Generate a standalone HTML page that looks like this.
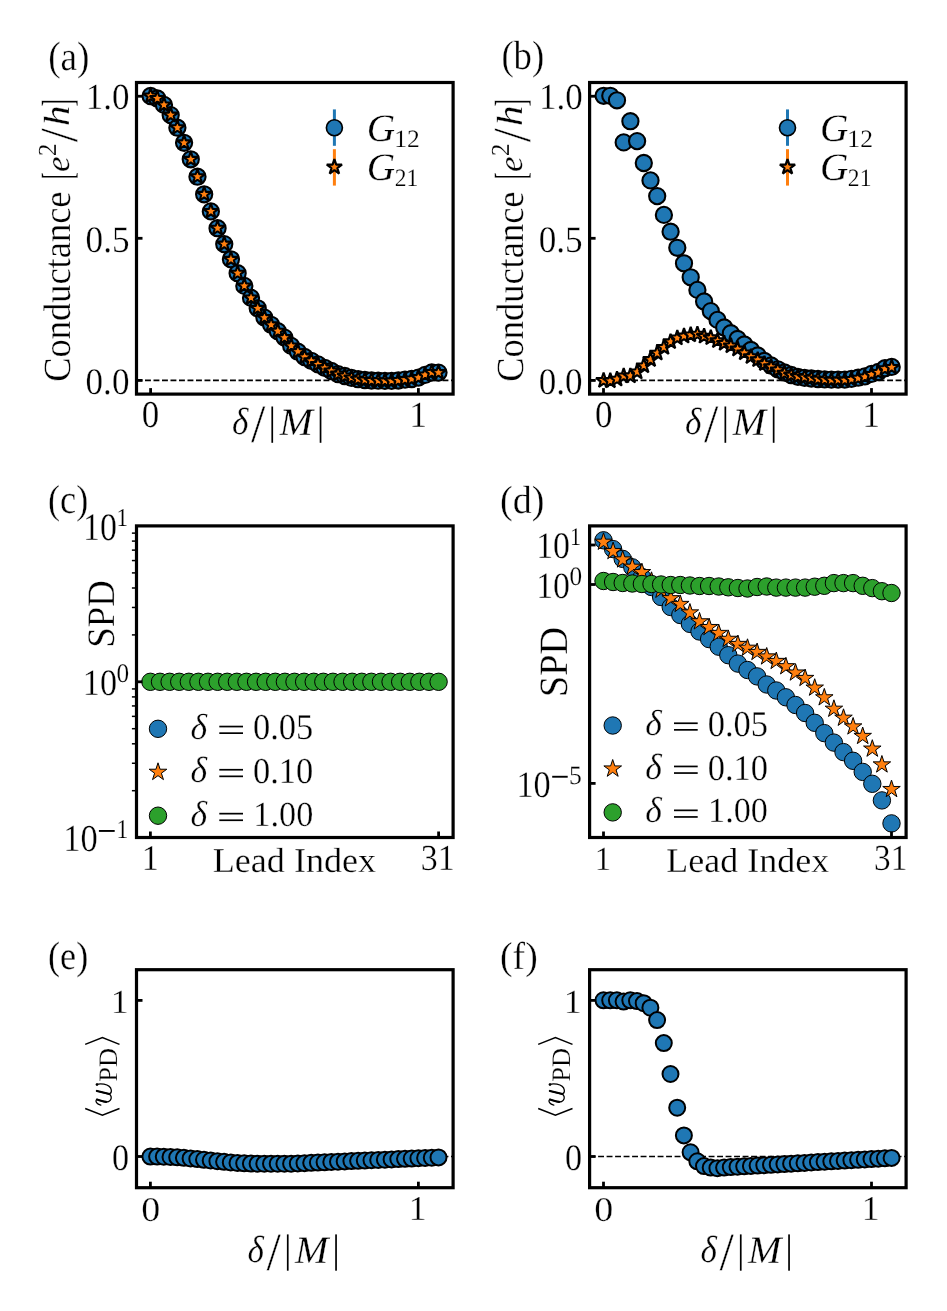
<!DOCTYPE html>
<html><head><meta charset="utf-8"><title>figure</title>
<style>
html,body{margin:0;padding:0;background:#fff;width:947px;height:1311px;overflow:hidden}
svg{display:block;will-change:transform}
text{font-size:100px;fill:#000;stroke:#fff;stroke-width:0.8px;text-rendering:geometricPrecision;font-kerning:none}
.r{font-family:"Liberation Serif",serif}
.i{font-family:"Liberation Serif",serif;font-style:italic}
</style></head><body>
<svg width="947" height="1311" viewBox="0 0 947 1311">
<rect width="947" height="1311" fill="#fff"/>
<clipPath id="clipa"><rect x="136.5" y="82.5" width="316.6" height="311.6"/></clipPath>
<line x1="136.5" y1="380.4" x2="453.1" y2="380.4" stroke="#000" stroke-width="1.6" stroke-dasharray="5.9 2.6"/>
<g clip-path="url(#clipa)">
<circle cx="150.60" cy="96.00" r="8.1" fill="#1f77b4" stroke="#000" stroke-width="2.1"/>
<circle cx="157.29" cy="98.50" r="8.1" fill="#1f77b4" stroke="#000" stroke-width="2.1"/>
<circle cx="163.99" cy="104.90" r="8.1" fill="#1f77b4" stroke="#000" stroke-width="2.1"/>
<circle cx="170.69" cy="115.10" r="8.1" fill="#1f77b4" stroke="#000" stroke-width="2.1"/>
<circle cx="177.38" cy="127.70" r="8.1" fill="#1f77b4" stroke="#000" stroke-width="2.1"/>
<circle cx="184.07" cy="142.80" r="8.1" fill="#1f77b4" stroke="#000" stroke-width="2.1"/>
<circle cx="190.77" cy="159.30" r="8.1" fill="#1f77b4" stroke="#000" stroke-width="2.1"/>
<circle cx="197.47" cy="176.70" r="8.1" fill="#1f77b4" stroke="#000" stroke-width="2.1"/>
<circle cx="204.16" cy="194.30" r="8.1" fill="#1f77b4" stroke="#000" stroke-width="2.1"/>
<circle cx="210.85" cy="211.40" r="8.1" fill="#1f77b4" stroke="#000" stroke-width="2.1"/>
<circle cx="217.55" cy="228.20" r="8.1" fill="#1f77b4" stroke="#000" stroke-width="2.1"/>
<circle cx="224.25" cy="244.10" r="8.1" fill="#1f77b4" stroke="#000" stroke-width="2.1"/>
<circle cx="230.94" cy="259.30" r="8.1" fill="#1f77b4" stroke="#000" stroke-width="2.1"/>
<circle cx="237.63" cy="273.20" r="8.1" fill="#1f77b4" stroke="#000" stroke-width="2.1"/>
<circle cx="244.33" cy="285.90" r="8.1" fill="#1f77b4" stroke="#000" stroke-width="2.1"/>
<circle cx="251.03" cy="297.90" r="8.1" fill="#1f77b4" stroke="#000" stroke-width="2.1"/>
<circle cx="257.72" cy="308.30" r="8.1" fill="#1f77b4" stroke="#000" stroke-width="2.1"/>
<circle cx="264.41" cy="317.60" r="8.1" fill="#1f77b4" stroke="#000" stroke-width="2.1"/>
<circle cx="271.11" cy="324.80" r="8.1" fill="#1f77b4" stroke="#000" stroke-width="2.1"/>
<circle cx="277.81" cy="331.20" r="8.1" fill="#1f77b4" stroke="#000" stroke-width="2.1"/>
<circle cx="284.50" cy="337.60" r="8.1" fill="#1f77b4" stroke="#000" stroke-width="2.1"/>
<circle cx="291.19" cy="345.90" r="8.1" fill="#1f77b4" stroke="#000" stroke-width="2.1"/>
<circle cx="297.89" cy="351.70" r="8.1" fill="#1f77b4" stroke="#000" stroke-width="2.1"/>
<circle cx="304.59" cy="357.00" r="8.1" fill="#1f77b4" stroke="#000" stroke-width="2.1"/>
<circle cx="311.28" cy="360.80" r="8.1" fill="#1f77b4" stroke="#000" stroke-width="2.1"/>
<circle cx="317.98" cy="364.40" r="8.1" fill="#1f77b4" stroke="#000" stroke-width="2.1"/>
<circle cx="324.67" cy="367.80" r="8.1" fill="#1f77b4" stroke="#000" stroke-width="2.1"/>
<circle cx="331.37" cy="371.00" r="8.1" fill="#1f77b4" stroke="#000" stroke-width="2.1"/>
<circle cx="338.06" cy="374.10" r="8.1" fill="#1f77b4" stroke="#000" stroke-width="2.1"/>
<circle cx="344.75" cy="376.00" r="8.1" fill="#1f77b4" stroke="#000" stroke-width="2.1"/>
<circle cx="351.45" cy="377.90" r="8.1" fill="#1f77b4" stroke="#000" stroke-width="2.1"/>
<circle cx="358.14" cy="379.20" r="8.1" fill="#1f77b4" stroke="#000" stroke-width="2.1"/>
<circle cx="364.84" cy="380.00" r="8.1" fill="#1f77b4" stroke="#000" stroke-width="2.1"/>
<circle cx="371.53" cy="380.50" r="8.1" fill="#1f77b4" stroke="#000" stroke-width="2.1"/>
<circle cx="378.23" cy="380.70" r="8.1" fill="#1f77b4" stroke="#000" stroke-width="2.1"/>
<circle cx="384.93" cy="380.90" r="8.1" fill="#1f77b4" stroke="#000" stroke-width="2.1"/>
<circle cx="391.62" cy="380.90" r="8.1" fill="#1f77b4" stroke="#000" stroke-width="2.1"/>
<circle cx="398.31" cy="380.50" r="8.1" fill="#1f77b4" stroke="#000" stroke-width="2.1"/>
<circle cx="405.01" cy="379.60" r="8.1" fill="#1f77b4" stroke="#000" stroke-width="2.1"/>
<circle cx="411.71" cy="379.00" r="8.1" fill="#1f77b4" stroke="#000" stroke-width="2.1"/>
<circle cx="418.40" cy="377.60" r="8.1" fill="#1f77b4" stroke="#000" stroke-width="2.1"/>
<circle cx="425.10" cy="374.90" r="8.1" fill="#1f77b4" stroke="#000" stroke-width="2.1"/>
<circle cx="431.79" cy="372.50" r="8.1" fill="#1f77b4" stroke="#000" stroke-width="2.1"/>
<circle cx="438.49" cy="372.60" r="8.1" fill="#1f77b4" stroke="#000" stroke-width="2.1"/>
<path d="M150.60,88.00 L148.80,93.53 L142.99,93.53 L147.69,96.94 L145.90,102.47 L150.60,99.06 L155.30,102.47 L153.51,96.94 L158.21,93.53 L152.40,93.53Z" fill="#ff7f0e" stroke="#000" stroke-width="2.1" stroke-linejoin="bevel"/>
<path d="M157.29,90.50 L155.50,96.03 L149.69,96.03 L154.39,99.44 L152.59,104.97 L157.29,101.56 L162.00,104.97 L160.20,99.44 L164.90,96.03 L159.09,96.03Z" fill="#ff7f0e" stroke="#000" stroke-width="2.1" stroke-linejoin="bevel"/>
<path d="M163.99,96.90 L162.19,102.43 L156.38,102.43 L161.08,105.84 L159.29,111.37 L163.99,107.96 L168.69,111.37 L166.90,105.84 L171.60,102.43 L165.79,102.43Z" fill="#ff7f0e" stroke="#000" stroke-width="2.1" stroke-linejoin="bevel"/>
<path d="M170.69,107.10 L168.89,112.63 L163.08,112.63 L167.78,116.04 L165.98,121.57 L170.69,118.16 L175.39,121.57 L173.59,116.04 L178.29,112.63 L172.48,112.63Z" fill="#ff7f0e" stroke="#000" stroke-width="2.1" stroke-linejoin="bevel"/>
<path d="M177.38,119.70 L175.58,125.23 L169.77,125.23 L174.47,128.64 L172.68,134.17 L177.38,130.76 L182.08,134.17 L180.29,128.64 L184.99,125.23 L179.18,125.23Z" fill="#ff7f0e" stroke="#000" stroke-width="2.1" stroke-linejoin="bevel"/>
<path d="M184.07,134.80 L182.28,140.33 L176.47,140.33 L181.17,143.74 L179.37,149.27 L184.07,145.86 L188.78,149.27 L186.98,143.74 L191.68,140.33 L185.87,140.33Z" fill="#ff7f0e" stroke="#000" stroke-width="2.1" stroke-linejoin="bevel"/>
<path d="M190.77,151.30 L188.97,156.83 L183.16,156.83 L187.86,160.24 L186.07,165.77 L190.77,162.36 L195.47,165.77 L193.68,160.24 L198.38,156.83 L192.57,156.83Z" fill="#ff7f0e" stroke="#000" stroke-width="2.1" stroke-linejoin="bevel"/>
<path d="M197.47,168.70 L195.67,174.23 L189.86,174.23 L194.56,177.64 L192.76,183.17 L197.47,179.76 L202.17,183.17 L200.37,177.64 L205.07,174.23 L199.26,174.23Z" fill="#ff7f0e" stroke="#000" stroke-width="2.1" stroke-linejoin="bevel"/>
<path d="M204.16,186.30 L202.36,191.83 L196.55,191.83 L201.25,195.24 L199.46,200.77 L204.16,197.36 L208.86,200.77 L207.07,195.24 L211.77,191.83 L205.96,191.83Z" fill="#ff7f0e" stroke="#000" stroke-width="2.1" stroke-linejoin="bevel"/>
<path d="M210.85,203.40 L209.06,208.93 L203.25,208.93 L207.95,212.34 L206.15,217.87 L210.85,214.46 L215.56,217.87 L213.76,212.34 L218.46,208.93 L212.65,208.93Z" fill="#ff7f0e" stroke="#000" stroke-width="2.1" stroke-linejoin="bevel"/>
<path d="M217.55,220.20 L215.75,225.73 L209.94,225.73 L214.64,229.14 L212.85,234.67 L217.55,231.26 L222.25,234.67 L220.46,229.14 L225.16,225.73 L219.35,225.73Z" fill="#ff7f0e" stroke="#000" stroke-width="2.1" stroke-linejoin="bevel"/>
<path d="M224.25,236.10 L222.45,241.63 L216.64,241.63 L221.34,245.04 L219.54,250.57 L224.25,247.16 L228.95,250.57 L227.15,245.04 L231.85,241.63 L226.04,241.63Z" fill="#ff7f0e" stroke="#000" stroke-width="2.1" stroke-linejoin="bevel"/>
<path d="M230.94,251.30 L229.14,256.83 L223.33,256.83 L228.03,260.24 L226.24,265.77 L230.94,262.36 L235.64,265.77 L233.85,260.24 L238.55,256.83 L232.74,256.83Z" fill="#ff7f0e" stroke="#000" stroke-width="2.1" stroke-linejoin="bevel"/>
<path d="M237.63,265.20 L235.84,270.73 L230.03,270.73 L234.73,274.14 L232.93,279.67 L237.63,276.26 L242.34,279.67 L240.54,274.14 L245.24,270.73 L239.43,270.73Z" fill="#ff7f0e" stroke="#000" stroke-width="2.1" stroke-linejoin="bevel"/>
<path d="M244.33,277.90 L242.53,283.43 L236.72,283.43 L241.42,286.84 L239.63,292.37 L244.33,288.96 L249.03,292.37 L247.24,286.84 L251.94,283.43 L246.13,283.43Z" fill="#ff7f0e" stroke="#000" stroke-width="2.1" stroke-linejoin="bevel"/>
<path d="M251.03,289.90 L249.23,295.43 L243.42,295.43 L248.12,298.84 L246.32,304.37 L251.03,300.96 L255.73,304.37 L253.93,298.84 L258.63,295.43 L252.82,295.43Z" fill="#ff7f0e" stroke="#000" stroke-width="2.1" stroke-linejoin="bevel"/>
<path d="M257.72,300.30 L255.92,305.83 L250.11,305.83 L254.81,309.24 L253.02,314.77 L257.72,311.36 L262.42,314.77 L260.63,309.24 L265.33,305.83 L259.52,305.83Z" fill="#ff7f0e" stroke="#000" stroke-width="2.1" stroke-linejoin="bevel"/>
<path d="M264.41,309.60 L262.62,315.13 L256.81,315.13 L261.51,318.54 L259.71,324.07 L264.41,320.66 L269.12,324.07 L267.32,318.54 L272.02,315.13 L266.21,315.13Z" fill="#ff7f0e" stroke="#000" stroke-width="2.1" stroke-linejoin="bevel"/>
<path d="M271.11,316.80 L269.31,322.33 L263.50,322.33 L268.20,325.74 L266.41,331.27 L271.11,327.86 L275.81,331.27 L274.02,325.74 L278.72,322.33 L272.91,322.33Z" fill="#ff7f0e" stroke="#000" stroke-width="2.1" stroke-linejoin="bevel"/>
<path d="M277.81,323.20 L276.01,328.73 L270.20,328.73 L274.90,332.14 L273.10,337.67 L277.81,334.26 L282.51,337.67 L280.71,332.14 L285.41,328.73 L279.60,328.73Z" fill="#ff7f0e" stroke="#000" stroke-width="2.1" stroke-linejoin="bevel"/>
<path d="M284.50,329.60 L282.70,335.13 L276.89,335.13 L281.59,338.54 L279.80,344.07 L284.50,340.66 L289.20,344.07 L287.41,338.54 L292.11,335.13 L286.30,335.13Z" fill="#ff7f0e" stroke="#000" stroke-width="2.1" stroke-linejoin="bevel"/>
<path d="M291.19,337.90 L289.40,343.43 L283.59,343.43 L288.29,346.84 L286.49,352.37 L291.19,348.96 L295.90,352.37 L294.10,346.84 L298.80,343.43 L292.99,343.43Z" fill="#ff7f0e" stroke="#000" stroke-width="2.1" stroke-linejoin="bevel"/>
<path d="M297.89,343.70 L296.09,349.23 L290.28,349.23 L294.98,352.64 L293.19,358.17 L297.89,354.76 L302.59,358.17 L300.80,352.64 L305.50,349.23 L299.69,349.23Z" fill="#ff7f0e" stroke="#000" stroke-width="2.1" stroke-linejoin="bevel"/>
<path d="M304.59,349.00 L302.79,354.53 L296.98,354.53 L301.68,357.94 L299.88,363.47 L304.59,360.06 L309.29,363.47 L307.49,357.94 L312.19,354.53 L306.38,354.53Z" fill="#ff7f0e" stroke="#000" stroke-width="2.1" stroke-linejoin="bevel"/>
<path d="M311.28,352.80 L309.48,358.33 L303.67,358.33 L308.37,361.74 L306.58,367.27 L311.28,363.86 L315.98,367.27 L314.19,361.74 L318.89,358.33 L313.08,358.33Z" fill="#ff7f0e" stroke="#000" stroke-width="2.1" stroke-linejoin="bevel"/>
<path d="M317.98,356.40 L316.18,361.93 L310.37,361.93 L315.07,365.34 L313.27,370.87 L317.98,367.46 L322.68,370.87 L320.88,365.34 L325.58,361.93 L319.77,361.93Z" fill="#ff7f0e" stroke="#000" stroke-width="2.1" stroke-linejoin="bevel"/>
<path d="M324.67,359.80 L322.87,365.33 L317.06,365.33 L321.76,368.74 L319.97,374.27 L324.67,370.86 L329.37,374.27 L327.58,368.74 L332.28,365.33 L326.47,365.33Z" fill="#ff7f0e" stroke="#000" stroke-width="2.1" stroke-linejoin="bevel"/>
<path d="M331.37,363.00 L329.57,368.53 L323.76,368.53 L328.46,371.94 L326.66,377.47 L331.37,374.06 L336.07,377.47 L334.27,371.94 L338.97,368.53 L333.16,368.53Z" fill="#ff7f0e" stroke="#000" stroke-width="2.1" stroke-linejoin="bevel"/>
<path d="M338.06,366.10 L336.26,371.63 L330.45,371.63 L335.15,375.04 L333.36,380.57 L338.06,377.16 L342.76,380.57 L340.97,375.04 L345.67,371.63 L339.86,371.63Z" fill="#ff7f0e" stroke="#000" stroke-width="2.1" stroke-linejoin="bevel"/>
<path d="M344.75,368.00 L342.96,373.53 L337.15,373.53 L341.85,376.94 L340.05,382.47 L344.75,379.06 L349.46,382.47 L347.66,376.94 L352.36,373.53 L346.55,373.53Z" fill="#ff7f0e" stroke="#000" stroke-width="2.1" stroke-linejoin="bevel"/>
<path d="M351.45,369.90 L349.65,375.43 L343.84,375.43 L348.54,378.84 L346.75,384.37 L351.45,380.96 L356.15,384.37 L354.36,378.84 L359.06,375.43 L353.25,375.43Z" fill="#ff7f0e" stroke="#000" stroke-width="2.1" stroke-linejoin="bevel"/>
<path d="M358.14,371.20 L356.35,376.73 L350.54,376.73 L355.24,380.14 L353.44,385.67 L358.14,382.26 L362.85,385.67 L361.05,380.14 L365.75,376.73 L359.94,376.73Z" fill="#ff7f0e" stroke="#000" stroke-width="2.1" stroke-linejoin="bevel"/>
<path d="M364.84,372.00 L363.04,377.53 L357.23,377.53 L361.93,380.94 L360.14,386.47 L364.84,383.06 L369.54,386.47 L367.75,380.94 L372.45,377.53 L366.64,377.53Z" fill="#ff7f0e" stroke="#000" stroke-width="2.1" stroke-linejoin="bevel"/>
<path d="M371.53,372.50 L369.74,378.03 L363.93,378.03 L368.63,381.44 L366.83,386.97 L371.53,383.56 L376.24,386.97 L374.44,381.44 L379.14,378.03 L373.33,378.03Z" fill="#ff7f0e" stroke="#000" stroke-width="2.1" stroke-linejoin="bevel"/>
<path d="M378.23,372.70 L376.43,378.23 L370.62,378.23 L375.32,381.64 L373.53,387.17 L378.23,383.76 L382.93,387.17 L381.14,381.64 L385.84,378.23 L380.03,378.23Z" fill="#ff7f0e" stroke="#000" stroke-width="2.1" stroke-linejoin="bevel"/>
<path d="M384.93,372.90 L383.13,378.43 L377.32,378.43 L382.02,381.84 L380.22,387.37 L384.93,383.96 L389.63,387.37 L387.83,381.84 L392.53,378.43 L386.72,378.43Z" fill="#ff7f0e" stroke="#000" stroke-width="2.1" stroke-linejoin="bevel"/>
<path d="M391.62,372.90 L389.82,378.43 L384.01,378.43 L388.71,381.84 L386.92,387.37 L391.62,383.96 L396.32,387.37 L394.53,381.84 L399.23,378.43 L393.42,378.43Z" fill="#ff7f0e" stroke="#000" stroke-width="2.1" stroke-linejoin="bevel"/>
<path d="M398.31,372.50 L396.52,378.03 L390.71,378.03 L395.41,381.44 L393.61,386.97 L398.31,383.56 L403.02,386.97 L401.22,381.44 L405.92,378.03 L400.11,378.03Z" fill="#ff7f0e" stroke="#000" stroke-width="2.1" stroke-linejoin="bevel"/>
<path d="M405.01,371.60 L403.21,377.13 L397.40,377.13 L402.10,380.54 L400.31,386.07 L405.01,382.66 L409.71,386.07 L407.92,380.54 L412.62,377.13 L406.81,377.13Z" fill="#ff7f0e" stroke="#000" stroke-width="2.1" stroke-linejoin="bevel"/>
<path d="M411.71,371.00 L409.91,376.53 L404.10,376.53 L408.80,379.94 L407.00,385.47 L411.71,382.06 L416.41,385.47 L414.61,379.94 L419.31,376.53 L413.50,376.53Z" fill="#ff7f0e" stroke="#000" stroke-width="2.1" stroke-linejoin="bevel"/>
<path d="M418.40,369.60 L416.60,375.13 L410.79,375.13 L415.49,378.54 L413.70,384.07 L418.40,380.66 L423.10,384.07 L421.31,378.54 L426.01,375.13 L420.20,375.13Z" fill="#ff7f0e" stroke="#000" stroke-width="2.1" stroke-linejoin="bevel"/>
<path d="M425.10,366.90 L423.30,372.43 L417.49,372.43 L422.19,375.84 L420.39,381.37 L425.10,377.96 L429.80,381.37 L428.00,375.84 L432.70,372.43 L426.89,372.43Z" fill="#ff7f0e" stroke="#000" stroke-width="2.1" stroke-linejoin="bevel"/>
<path d="M431.79,364.50 L429.99,370.03 L424.18,370.03 L428.88,373.44 L427.09,378.97 L431.79,375.56 L436.49,378.97 L434.70,373.44 L439.40,370.03 L433.59,370.03Z" fill="#ff7f0e" stroke="#000" stroke-width="2.1" stroke-linejoin="bevel"/>
<path d="M438.49,364.60 L436.69,370.13 L430.88,370.13 L435.58,373.54 L433.78,379.07 L438.49,375.66 L443.19,379.07 L441.39,373.54 L446.09,370.13 L440.28,370.13Z" fill="#ff7f0e" stroke="#000" stroke-width="2.1" stroke-linejoin="bevel"/>
</g>
<rect x="136.5" y="82.5" width="316.60" height="311.60" fill="none" stroke="#000" stroke-width="3.2" stroke-linejoin="miter"/>
<line x1="136.5" y1="96.25" x2="142.5" y2="96.25" stroke="#000" stroke-width="2.8"/>
<line x1="136.5" y1="238.3" x2="142.5" y2="238.3" stroke="#000" stroke-width="2.8"/>
<line x1="136.5" y1="380.4" x2="142.5" y2="380.4" stroke="#000" stroke-width="2.8"/>
<line x1="150.6" y1="394.1" x2="150.6" y2="388.1" stroke="#000" stroke-width="2.8"/>
<line x1="418.4" y1="394.1" x2="418.4" y2="388.1" stroke="#000" stroke-width="2.8"/>
<text class="r" transform="translate(85.83 109.28) scale(0.3496 0.3688)">1.0</text>
<text class="r" transform="translate(85.56 251.77) scale(0.3513 0.3740)">0.5</text>
<text class="r" transform="translate(85.56 393.87) scale(0.3510 0.3740)">0.0</text>
<text class="r" transform="translate(141.87 427.33) scale(0.3492 0.3809)">0</text>
<text class="r" transform="translate(409.25 427.00) scale(0.3579 0.3666)">1</text>
<text class="r" transform="translate(48.17 69.57) scale(0.3718 0.4103)">(a)</text>
<text class="r" transform="translate(69.63 381.79) rotate(-90) scale(0.3645 0.3837)">Conductance</text>
<text class="r" transform="translate(71.85 179.10) rotate(-90) scale(0.2021 0.4374)">[</text>
<text class="i" transform="translate(68.97 171.88) rotate(-90) scale(0.3507 0.3410)">e</text>
<text class="r" transform="translate(56.00 156.33) rotate(-90) scale(0.2569 0.2598)">2</text>
<text class="r" transform="translate(77.18 142.20) rotate(-90) scale(0.5075 0.5352)">/</text>
<text class="i" transform="translate(69.30 126.21) rotate(-90) scale(0.4167 0.3632)">h</text>
<text class="r" transform="translate(71.85 106.40) rotate(-90) scale(0.2201 0.4374)">]</text>
<text class="i" transform="translate(231.97 434.23) scale(0.3521 0.3783)">δ</text>
<text class="r" transform="translate(250.90 442.27) scale(0.5183 0.5426)">/</text>
<rect x="271.40" y="406.5" width="1.7" height="36.3" fill="#000"/>
<text class="i" transform="translate(279.47 434.60) scale(0.4008 0.3879)">M</text>
<rect x="319.70" y="406.5" width="1.7" height="36.3" fill="#000"/>
<line x1="334.4" y1="109.4" x2="334.4" y2="145.8" stroke="#1f77b4" stroke-width="3"/>
<circle cx="334.40" cy="127.70" r="8.0" fill="#1f77b4" stroke="#000" stroke-width="1.65"/>
<line x1="334.4" y1="149.2" x2="334.4" y2="185.6" stroke="#ff7f0e" stroke-width="3"/>
<path d="M334.40,159.10 L332.60,164.63 L326.79,164.63 L331.49,168.04 L329.70,173.57 L334.40,170.16 L339.10,173.57 L337.31,168.04 L342.01,164.63 L336.20,164.63Z" fill="#ff7f0e" stroke="#000" stroke-width="2.2" stroke-linejoin="bevel"/>
<text class="i" transform="translate(366.83 140.66) scale(0.3935 0.3890)">G</text>
<text class="r" transform="translate(394.25 146.50) scale(0.2556 0.2492)">12</text>
<text class="i" transform="translate(366.83 180.46) scale(0.3935 0.3890)">G</text>
<text class="r" transform="translate(394.76 186.30) scale(0.2366 0.2492)">21</text>
<clipPath id="clipb"><rect x="589.6" y="82.5" width="316.5" height="311.6"/></clipPath>
<line x1="589.6" y1="380.4" x2="906.1" y2="380.4" stroke="#000" stroke-width="1.6" stroke-dasharray="5.9 2.6"/>
<g clip-path="url(#clipb)">
<circle cx="603.60" cy="95.80" r="8.1" fill="#1f77b4" stroke="#000" stroke-width="2.1"/>
<circle cx="610.30" cy="95.80" r="8.1" fill="#1f77b4" stroke="#000" stroke-width="2.1"/>
<circle cx="617.00" cy="100.30" r="8.1" fill="#1f77b4" stroke="#000" stroke-width="2.1"/>
<circle cx="623.70" cy="142.40" r="8.1" fill="#1f77b4" stroke="#000" stroke-width="2.1"/>
<circle cx="630.40" cy="121.20" r="8.1" fill="#1f77b4" stroke="#000" stroke-width="2.1"/>
<circle cx="637.10" cy="141.10" r="8.1" fill="#1f77b4" stroke="#000" stroke-width="2.1"/>
<circle cx="643.80" cy="163.00" r="8.1" fill="#1f77b4" stroke="#000" stroke-width="2.1"/>
<circle cx="650.50" cy="180.40" r="8.1" fill="#1f77b4" stroke="#000" stroke-width="2.1"/>
<circle cx="657.20" cy="196.10" r="8.1" fill="#1f77b4" stroke="#000" stroke-width="2.1"/>
<circle cx="663.90" cy="214.90" r="8.1" fill="#1f77b4" stroke="#000" stroke-width="2.1"/>
<circle cx="670.60" cy="231.70" r="8.1" fill="#1f77b4" stroke="#000" stroke-width="2.1"/>
<circle cx="677.30" cy="247.80" r="8.1" fill="#1f77b4" stroke="#000" stroke-width="2.1"/>
<circle cx="684.00" cy="263.30" r="8.1" fill="#1f77b4" stroke="#000" stroke-width="2.1"/>
<circle cx="690.70" cy="277.30" r="8.1" fill="#1f77b4" stroke="#000" stroke-width="2.1"/>
<circle cx="697.40" cy="289.90" r="8.1" fill="#1f77b4" stroke="#000" stroke-width="2.1"/>
<circle cx="704.10" cy="301.50" r="8.1" fill="#1f77b4" stroke="#000" stroke-width="2.1"/>
<circle cx="710.80" cy="311.10" r="8.1" fill="#1f77b4" stroke="#000" stroke-width="2.1"/>
<circle cx="717.50" cy="319.90" r="8.1" fill="#1f77b4" stroke="#000" stroke-width="2.1"/>
<circle cx="724.20" cy="327.50" r="8.1" fill="#1f77b4" stroke="#000" stroke-width="2.1"/>
<circle cx="730.90" cy="333.20" r="8.1" fill="#1f77b4" stroke="#000" stroke-width="2.1"/>
<circle cx="737.60" cy="339.00" r="8.1" fill="#1f77b4" stroke="#000" stroke-width="2.1"/>
<circle cx="744.30" cy="344.50" r="8.1" fill="#1f77b4" stroke="#000" stroke-width="2.1"/>
<circle cx="751.00" cy="350.00" r="8.1" fill="#1f77b4" stroke="#000" stroke-width="2.1"/>
<circle cx="757.70" cy="355.50" r="8.1" fill="#1f77b4" stroke="#000" stroke-width="2.1"/>
<circle cx="764.40" cy="361.00" r="8.1" fill="#1f77b4" stroke="#000" stroke-width="2.1"/>
<circle cx="771.10" cy="365.50" r="8.1" fill="#1f77b4" stroke="#000" stroke-width="2.1"/>
<circle cx="777.80" cy="369.30" r="8.1" fill="#1f77b4" stroke="#000" stroke-width="2.1"/>
<circle cx="784.50" cy="372.50" r="8.1" fill="#1f77b4" stroke="#000" stroke-width="2.1"/>
<circle cx="791.20" cy="375.00" r="8.1" fill="#1f77b4" stroke="#000" stroke-width="2.1"/>
<circle cx="797.90" cy="376.80" r="8.1" fill="#1f77b4" stroke="#000" stroke-width="2.1"/>
<circle cx="804.60" cy="377.80" r="8.1" fill="#1f77b4" stroke="#000" stroke-width="2.1"/>
<circle cx="811.30" cy="378.50" r="8.1" fill="#1f77b4" stroke="#000" stroke-width="2.1"/>
<circle cx="818.00" cy="379.00" r="8.1" fill="#1f77b4" stroke="#000" stroke-width="2.1"/>
<circle cx="824.70" cy="379.40" r="8.1" fill="#1f77b4" stroke="#000" stroke-width="2.1"/>
<circle cx="831.40" cy="379.60" r="8.1" fill="#1f77b4" stroke="#000" stroke-width="2.1"/>
<circle cx="838.10" cy="379.60" r="8.1" fill="#1f77b4" stroke="#000" stroke-width="2.1"/>
<circle cx="844.80" cy="379.60" r="8.1" fill="#1f77b4" stroke="#000" stroke-width="2.1"/>
<circle cx="851.50" cy="378.90" r="8.1" fill="#1f77b4" stroke="#000" stroke-width="2.1"/>
<circle cx="858.20" cy="377.70" r="8.1" fill="#1f77b4" stroke="#000" stroke-width="2.1"/>
<circle cx="864.90" cy="376.40" r="8.1" fill="#1f77b4" stroke="#000" stroke-width="2.1"/>
<circle cx="871.60" cy="373.90" r="8.1" fill="#1f77b4" stroke="#000" stroke-width="2.1"/>
<circle cx="878.30" cy="372.00" r="8.1" fill="#1f77b4" stroke="#000" stroke-width="2.1"/>
<circle cx="885.00" cy="368.20" r="8.1" fill="#1f77b4" stroke="#000" stroke-width="2.1"/>
<circle cx="891.70" cy="366.90" r="8.1" fill="#1f77b4" stroke="#000" stroke-width="2.1"/>
<path d="M603.60,372.50 L601.80,378.03 L595.99,378.03 L600.69,381.44 L598.90,386.97 L603.60,383.56 L608.30,386.97 L606.51,381.44 L611.21,378.03 L605.40,378.03Z" fill="#ff7f0e" stroke="#000" stroke-width="2.1" stroke-linejoin="bevel"/>
<path d="M610.30,372.90 L608.50,378.43 L602.69,378.43 L607.39,381.84 L605.60,387.37 L610.30,383.96 L615.00,387.37 L613.21,381.84 L617.91,378.43 L612.10,378.43Z" fill="#ff7f0e" stroke="#000" stroke-width="2.1" stroke-linejoin="bevel"/>
<path d="M617.00,371.20 L615.20,376.73 L609.39,376.73 L614.09,380.14 L612.30,385.67 L617.00,382.26 L621.70,385.67 L619.91,380.14 L624.61,376.73 L618.80,376.73Z" fill="#ff7f0e" stroke="#000" stroke-width="2.1" stroke-linejoin="bevel"/>
<path d="M623.70,368.00 L621.90,373.53 L616.09,373.53 L620.79,376.94 L619.00,382.47 L623.70,379.06 L628.40,382.47 L626.61,376.94 L631.31,373.53 L625.50,373.53Z" fill="#ff7f0e" stroke="#000" stroke-width="2.1" stroke-linejoin="bevel"/>
<path d="M630.40,368.00 L628.60,373.53 L622.79,373.53 L627.49,376.94 L625.70,382.47 L630.40,379.06 L635.10,382.47 L633.31,376.94 L638.01,373.53 L632.20,373.53Z" fill="#ff7f0e" stroke="#000" stroke-width="2.1" stroke-linejoin="bevel"/>
<path d="M637.10,364.00 L635.30,369.53 L629.49,369.53 L634.19,372.94 L632.40,378.47 L637.10,375.06 L641.80,378.47 L640.01,372.94 L644.71,369.53 L638.90,369.53Z" fill="#ff7f0e" stroke="#000" stroke-width="2.1" stroke-linejoin="bevel"/>
<path d="M643.80,357.90 L642.00,363.43 L636.19,363.43 L640.89,366.84 L639.10,372.37 L643.80,368.96 L648.50,372.37 L646.71,366.84 L651.41,363.43 L645.60,363.43Z" fill="#ff7f0e" stroke="#000" stroke-width="2.1" stroke-linejoin="bevel"/>
<path d="M650.50,351.60 L648.70,357.13 L642.89,357.13 L647.59,360.54 L645.80,366.07 L650.50,362.66 L655.20,366.07 L653.41,360.54 L658.11,357.13 L652.30,357.13Z" fill="#ff7f0e" stroke="#000" stroke-width="2.1" stroke-linejoin="bevel"/>
<path d="M657.20,345.20 L655.40,350.73 L649.59,350.73 L654.29,354.14 L652.50,359.67 L657.20,356.26 L661.90,359.67 L660.11,354.14 L664.81,350.73 L659.00,350.73Z" fill="#ff7f0e" stroke="#000" stroke-width="2.1" stroke-linejoin="bevel"/>
<path d="M663.90,339.50 L662.10,345.03 L656.29,345.03 L660.99,348.44 L659.20,353.97 L663.90,350.56 L668.60,353.97 L666.81,348.44 L671.51,345.03 L665.70,345.03Z" fill="#ff7f0e" stroke="#000" stroke-width="2.1" stroke-linejoin="bevel"/>
<path d="M670.60,333.80 L668.80,339.33 L662.99,339.33 L667.69,342.74 L665.90,348.27 L670.60,344.86 L675.30,348.27 L673.51,342.74 L678.21,339.33 L672.40,339.33Z" fill="#ff7f0e" stroke="#000" stroke-width="2.1" stroke-linejoin="bevel"/>
<path d="M677.30,330.00 L675.50,335.53 L669.69,335.53 L674.39,338.94 L672.60,344.47 L677.30,341.06 L682.00,344.47 L680.21,338.94 L684.91,335.53 L679.10,335.53Z" fill="#ff7f0e" stroke="#000" stroke-width="2.1" stroke-linejoin="bevel"/>
<path d="M684.00,328.10 L682.20,333.63 L676.39,333.63 L681.09,337.04 L679.30,342.57 L684.00,339.16 L688.70,342.57 L686.91,337.04 L691.61,333.63 L685.80,333.63Z" fill="#ff7f0e" stroke="#000" stroke-width="2.1" stroke-linejoin="bevel"/>
<path d="M690.70,326.90 L688.90,332.43 L683.09,332.43 L687.79,335.84 L686.00,341.37 L690.70,337.96 L695.40,341.37 L693.61,335.84 L698.31,332.43 L692.50,332.43Z" fill="#ff7f0e" stroke="#000" stroke-width="2.1" stroke-linejoin="bevel"/>
<path d="M697.40,326.20 L695.60,331.73 L689.79,331.73 L694.49,335.14 L692.70,340.67 L697.40,337.26 L702.10,340.67 L700.31,335.14 L705.01,331.73 L699.20,331.73Z" fill="#ff7f0e" stroke="#000" stroke-width="2.1" stroke-linejoin="bevel"/>
<path d="M704.10,328.30 L702.30,333.83 L696.49,333.83 L701.19,337.24 L699.40,342.77 L704.10,339.36 L708.80,342.77 L707.01,337.24 L711.71,333.83 L705.90,333.83Z" fill="#ff7f0e" stroke="#000" stroke-width="2.1" stroke-linejoin="bevel"/>
<path d="M710.80,329.80 L709.00,335.33 L703.19,335.33 L707.89,338.74 L706.10,344.27 L710.80,340.86 L715.50,344.27 L713.71,338.74 L718.41,335.33 L712.60,335.33Z" fill="#ff7f0e" stroke="#000" stroke-width="2.1" stroke-linejoin="bevel"/>
<path d="M717.50,332.80 L715.70,338.33 L709.89,338.33 L714.59,341.74 L712.80,347.27 L717.50,343.86 L722.20,347.27 L720.41,341.74 L725.11,338.33 L719.30,338.33Z" fill="#ff7f0e" stroke="#000" stroke-width="2.1" stroke-linejoin="bevel"/>
<path d="M724.20,335.40 L722.40,340.93 L716.59,340.93 L721.29,344.34 L719.50,349.87 L724.20,346.46 L728.90,349.87 L727.11,344.34 L731.81,340.93 L726.00,340.93Z" fill="#ff7f0e" stroke="#000" stroke-width="2.1" stroke-linejoin="bevel"/>
<path d="M730.90,337.90 L729.10,343.43 L723.29,343.43 L727.99,346.84 L726.20,352.37 L730.90,348.96 L735.60,352.37 L733.81,346.84 L738.51,343.43 L732.70,343.43Z" fill="#ff7f0e" stroke="#000" stroke-width="2.1" stroke-linejoin="bevel"/>
<path d="M737.60,341.10 L735.80,346.63 L729.99,346.63 L734.69,350.04 L732.90,355.57 L737.60,352.16 L742.30,355.57 L740.51,350.04 L745.21,346.63 L739.40,346.63Z" fill="#ff7f0e" stroke="#000" stroke-width="2.1" stroke-linejoin="bevel"/>
<path d="M744.30,344.90 L742.50,350.43 L736.69,350.43 L741.39,353.84 L739.60,359.37 L744.30,355.96 L749.00,359.37 L747.21,353.84 L751.91,350.43 L746.10,350.43Z" fill="#ff7f0e" stroke="#000" stroke-width="2.1" stroke-linejoin="bevel"/>
<path d="M751.00,348.70 L749.20,354.23 L743.39,354.23 L748.09,357.64 L746.30,363.17 L751.00,359.76 L755.70,363.17 L753.91,357.64 L758.61,354.23 L752.80,354.23Z" fill="#ff7f0e" stroke="#000" stroke-width="2.1" stroke-linejoin="bevel"/>
<path d="M757.70,351.80 L755.90,357.33 L750.09,357.33 L754.79,360.74 L753.00,366.27 L757.70,362.86 L762.40,366.27 L760.61,360.74 L765.31,357.33 L759.50,357.33Z" fill="#ff7f0e" stroke="#000" stroke-width="2.1" stroke-linejoin="bevel"/>
<path d="M764.40,355.70 L762.60,361.23 L756.79,361.23 L761.49,364.64 L759.70,370.17 L764.40,366.76 L769.10,370.17 L767.31,364.64 L772.01,361.23 L766.20,361.23Z" fill="#ff7f0e" stroke="#000" stroke-width="2.1" stroke-linejoin="bevel"/>
<path d="M771.10,358.80 L769.30,364.33 L763.49,364.33 L768.19,367.74 L766.40,373.27 L771.10,369.86 L775.80,373.27 L774.01,367.74 L778.71,364.33 L772.90,364.33Z" fill="#ff7f0e" stroke="#000" stroke-width="2.1" stroke-linejoin="bevel"/>
<path d="M777.80,362.00 L776.00,367.53 L770.19,367.53 L774.89,370.94 L773.10,376.47 L777.80,373.06 L782.50,376.47 L780.71,370.94 L785.41,367.53 L779.60,367.53Z" fill="#ff7f0e" stroke="#000" stroke-width="2.1" stroke-linejoin="bevel"/>
<path d="M784.50,365.20 L782.70,370.73 L776.89,370.73 L781.59,374.14 L779.80,379.67 L784.50,376.26 L789.20,379.67 L787.41,374.14 L792.11,370.73 L786.30,370.73Z" fill="#ff7f0e" stroke="#000" stroke-width="2.1" stroke-linejoin="bevel"/>
<path d="M791.20,367.10 L789.40,372.63 L783.59,372.63 L788.29,376.04 L786.50,381.57 L791.20,378.16 L795.90,381.57 L794.11,376.04 L798.81,372.63 L793.00,372.63Z" fill="#ff7f0e" stroke="#000" stroke-width="2.1" stroke-linejoin="bevel"/>
<path d="M797.90,368.60 L796.10,374.13 L790.29,374.13 L794.99,377.54 L793.20,383.07 L797.90,379.66 L802.60,383.07 L800.81,377.54 L805.51,374.13 L799.70,374.13Z" fill="#ff7f0e" stroke="#000" stroke-width="2.1" stroke-linejoin="bevel"/>
<path d="M804.60,369.20 L802.80,374.73 L796.99,374.73 L801.69,378.14 L799.90,383.67 L804.60,380.26 L809.30,383.67 L807.51,378.14 L812.21,374.73 L806.40,374.73Z" fill="#ff7f0e" stroke="#000" stroke-width="2.1" stroke-linejoin="bevel"/>
<path d="M811.30,370.20 L809.50,375.73 L803.69,375.73 L808.39,379.14 L806.60,384.67 L811.30,381.26 L816.00,384.67 L814.21,379.14 L818.91,375.73 L813.10,375.73Z" fill="#ff7f0e" stroke="#000" stroke-width="2.1" stroke-linejoin="bevel"/>
<path d="M818.00,371.20 L816.20,376.73 L810.39,376.73 L815.09,380.14 L813.30,385.67 L818.00,382.26 L822.70,385.67 L820.91,380.14 L825.61,376.73 L819.80,376.73Z" fill="#ff7f0e" stroke="#000" stroke-width="2.1" stroke-linejoin="bevel"/>
<path d="M824.70,371.70 L822.90,377.23 L817.09,377.23 L821.79,380.64 L820.00,386.17 L824.70,382.76 L829.40,386.17 L827.61,380.64 L832.31,377.23 L826.50,377.23Z" fill="#ff7f0e" stroke="#000" stroke-width="2.1" stroke-linejoin="bevel"/>
<path d="M831.40,372.10 L829.60,377.63 L823.79,377.63 L828.49,381.04 L826.70,386.57 L831.40,383.16 L836.10,386.57 L834.31,381.04 L839.01,377.63 L833.20,377.63Z" fill="#ff7f0e" stroke="#000" stroke-width="2.1" stroke-linejoin="bevel"/>
<path d="M838.10,372.10 L836.30,377.63 L830.49,377.63 L835.19,381.04 L833.40,386.57 L838.10,383.16 L842.80,386.57 L841.01,381.04 L845.71,377.63 L839.90,377.63Z" fill="#ff7f0e" stroke="#000" stroke-width="2.1" stroke-linejoin="bevel"/>
<path d="M844.80,372.10 L843.00,377.63 L837.19,377.63 L841.89,381.04 L840.10,386.57 L844.80,383.16 L849.50,386.57 L847.71,381.04 L852.41,377.63 L846.60,377.63Z" fill="#ff7f0e" stroke="#000" stroke-width="2.1" stroke-linejoin="bevel"/>
<path d="M851.50,371.40 L849.70,376.93 L843.89,376.93 L848.59,380.34 L846.80,385.87 L851.50,382.46 L856.20,385.87 L854.41,380.34 L859.11,376.93 L853.30,376.93Z" fill="#ff7f0e" stroke="#000" stroke-width="2.1" stroke-linejoin="bevel"/>
<path d="M858.20,370.20 L856.40,375.73 L850.59,375.73 L855.29,379.14 L853.50,384.67 L858.20,381.26 L862.90,384.67 L861.11,379.14 L865.81,375.73 L860.00,375.73Z" fill="#ff7f0e" stroke="#000" stroke-width="2.1" stroke-linejoin="bevel"/>
<path d="M864.90,368.90 L863.10,374.43 L857.29,374.43 L861.99,377.84 L860.20,383.37 L864.90,379.96 L869.60,383.37 L867.81,377.84 L872.51,374.43 L866.70,374.43Z" fill="#ff7f0e" stroke="#000" stroke-width="2.1" stroke-linejoin="bevel"/>
<path d="M871.60,366.40 L869.80,371.93 L863.99,371.93 L868.69,375.34 L866.90,380.87 L871.60,377.46 L876.30,380.87 L874.51,375.34 L879.21,371.93 L873.40,371.93Z" fill="#ff7f0e" stroke="#000" stroke-width="2.1" stroke-linejoin="bevel"/>
<path d="M878.30,364.50 L876.50,370.03 L870.69,370.03 L875.39,373.44 L873.60,378.97 L878.30,375.56 L883.00,378.97 L881.21,373.44 L885.91,370.03 L880.10,370.03Z" fill="#ff7f0e" stroke="#000" stroke-width="2.1" stroke-linejoin="bevel"/>
<path d="M885.00,360.70 L883.20,366.23 L877.39,366.23 L882.09,369.64 L880.30,375.17 L885.00,371.76 L889.70,375.17 L887.91,369.64 L892.61,366.23 L886.80,366.23Z" fill="#ff7f0e" stroke="#000" stroke-width="2.1" stroke-linejoin="bevel"/>
<path d="M891.70,359.40 L889.90,364.93 L884.09,364.93 L888.79,368.34 L887.00,373.87 L891.70,370.46 L896.40,373.87 L894.61,368.34 L899.31,364.93 L893.50,364.93Z" fill="#ff7f0e" stroke="#000" stroke-width="2.1" stroke-linejoin="bevel"/>
</g>
<rect x="589.6" y="82.5" width="316.50" height="311.60" fill="none" stroke="#000" stroke-width="3.2" stroke-linejoin="miter"/>
<line x1="589.6" y1="96.25" x2="595.6" y2="96.25" stroke="#000" stroke-width="2.8"/>
<line x1="589.6" y1="238.3" x2="595.6" y2="238.3" stroke="#000" stroke-width="2.8"/>
<line x1="589.6" y1="380.4" x2="595.6" y2="380.4" stroke="#000" stroke-width="2.8"/>
<line x1="603.5" y1="394.1" x2="603.5" y2="388.1" stroke="#000" stroke-width="2.8"/>
<line x1="871.5" y1="394.1" x2="871.5" y2="388.1" stroke="#000" stroke-width="2.8"/>
<text class="r" transform="translate(538.93 109.28) scale(0.3496 0.3688)">1.0</text>
<text class="r" transform="translate(538.66 251.77) scale(0.3513 0.3740)">0.5</text>
<text class="r" transform="translate(538.66 393.87) scale(0.3510 0.3740)">0.0</text>
<text class="r" transform="translate(594.97 427.33) scale(0.3492 0.3809)">0</text>
<text class="r" transform="translate(862.35 427.00) scale(0.3579 0.3666)">1</text>
<text class="r" transform="translate(501.39 69.31) scale(0.3673 0.4081)">(b)</text>
<text class="r" transform="translate(522.73 381.79) rotate(-90) scale(0.3645 0.3837)">Conductance</text>
<text class="r" transform="translate(524.95 179.10) rotate(-90) scale(0.2021 0.4374)">[</text>
<text class="i" transform="translate(522.07 171.88) rotate(-90) scale(0.3507 0.3410)">e</text>
<text class="r" transform="translate(509.10 156.33) rotate(-90) scale(0.2569 0.2598)">2</text>
<text class="r" transform="translate(530.28 142.20) rotate(-90) scale(0.5075 0.5352)">/</text>
<text class="i" transform="translate(522.40 126.21) rotate(-90) scale(0.4167 0.3632)">h</text>
<text class="r" transform="translate(524.95 106.40) rotate(-90) scale(0.2201 0.4374)">]</text>
<text class="i" transform="translate(685.07 434.23) scale(0.3521 0.3783)">δ</text>
<text class="r" transform="translate(704.00 442.27) scale(0.5183 0.5426)">/</text>
<rect x="724.50" y="406.5" width="1.7" height="36.3" fill="#000"/>
<text class="i" transform="translate(732.57 434.60) scale(0.4008 0.3879)">M</text>
<rect x="772.80" y="406.5" width="1.7" height="36.3" fill="#000"/>
<line x1="787.5" y1="109.4" x2="787.5" y2="145.8" stroke="#1f77b4" stroke-width="3"/>
<circle cx="787.50" cy="127.70" r="8.0" fill="#1f77b4" stroke="#000" stroke-width="1.65"/>
<line x1="787.5" y1="149.2" x2="787.5" y2="185.6" stroke="#ff7f0e" stroke-width="3"/>
<path d="M787.50,159.10 L785.70,164.63 L779.89,164.63 L784.59,168.04 L782.80,173.57 L787.50,170.16 L792.20,173.57 L790.41,168.04 L795.11,164.63 L789.30,164.63Z" fill="#ff7f0e" stroke="#000" stroke-width="2.2" stroke-linejoin="bevel"/>
<text class="i" transform="translate(819.93 140.66) scale(0.3935 0.3890)">G</text>
<text class="r" transform="translate(847.35 146.50) scale(0.2556 0.2492)">12</text>
<text class="i" transform="translate(819.93 180.46) scale(0.3935 0.3890)">G</text>
<text class="r" transform="translate(847.86 186.30) scale(0.2366 0.2492)">21</text>
<clipPath id="clipc"><rect x="136.5" y="525.9" width="316.6" height="311.6"/></clipPath>
<g clip-path="url(#clipc)">
<circle cx="150.40" cy="681.80" r="8.7" fill="#2ca02c" stroke="#000" stroke-width="1.0"/>
<circle cx="160.01" cy="681.80" r="8.7" fill="#2ca02c" stroke="#000" stroke-width="1.0"/>
<circle cx="169.61" cy="681.80" r="8.7" fill="#2ca02c" stroke="#000" stroke-width="1.0"/>
<circle cx="179.22" cy="681.80" r="8.7" fill="#2ca02c" stroke="#000" stroke-width="1.0"/>
<circle cx="188.83" cy="681.80" r="8.7" fill="#2ca02c" stroke="#000" stroke-width="1.0"/>
<circle cx="198.44" cy="681.80" r="8.7" fill="#2ca02c" stroke="#000" stroke-width="1.0"/>
<circle cx="208.04" cy="681.80" r="8.7" fill="#2ca02c" stroke="#000" stroke-width="1.0"/>
<circle cx="217.65" cy="681.80" r="8.7" fill="#2ca02c" stroke="#000" stroke-width="1.0"/>
<circle cx="227.26" cy="681.80" r="8.7" fill="#2ca02c" stroke="#000" stroke-width="1.0"/>
<circle cx="236.86" cy="681.80" r="8.7" fill="#2ca02c" stroke="#000" stroke-width="1.0"/>
<circle cx="246.47" cy="681.80" r="8.7" fill="#2ca02c" stroke="#000" stroke-width="1.0"/>
<circle cx="256.08" cy="681.80" r="8.7" fill="#2ca02c" stroke="#000" stroke-width="1.0"/>
<circle cx="265.68" cy="681.80" r="8.7" fill="#2ca02c" stroke="#000" stroke-width="1.0"/>
<circle cx="275.29" cy="681.80" r="8.7" fill="#2ca02c" stroke="#000" stroke-width="1.0"/>
<circle cx="284.90" cy="681.80" r="8.7" fill="#2ca02c" stroke="#000" stroke-width="1.0"/>
<circle cx="294.50" cy="681.80" r="8.7" fill="#2ca02c" stroke="#000" stroke-width="1.0"/>
<circle cx="304.11" cy="681.80" r="8.7" fill="#2ca02c" stroke="#000" stroke-width="1.0"/>
<circle cx="313.72" cy="681.80" r="8.7" fill="#2ca02c" stroke="#000" stroke-width="1.0"/>
<circle cx="323.33" cy="681.80" r="8.7" fill="#2ca02c" stroke="#000" stroke-width="1.0"/>
<circle cx="332.93" cy="681.80" r="8.7" fill="#2ca02c" stroke="#000" stroke-width="1.0"/>
<circle cx="342.54" cy="681.80" r="8.7" fill="#2ca02c" stroke="#000" stroke-width="1.0"/>
<circle cx="352.15" cy="681.80" r="8.7" fill="#2ca02c" stroke="#000" stroke-width="1.0"/>
<circle cx="361.75" cy="681.80" r="8.7" fill="#2ca02c" stroke="#000" stroke-width="1.0"/>
<circle cx="371.36" cy="681.80" r="8.7" fill="#2ca02c" stroke="#000" stroke-width="1.0"/>
<circle cx="380.97" cy="681.80" r="8.7" fill="#2ca02c" stroke="#000" stroke-width="1.0"/>
<circle cx="390.57" cy="681.80" r="8.7" fill="#2ca02c" stroke="#000" stroke-width="1.0"/>
<circle cx="400.18" cy="681.80" r="8.7" fill="#2ca02c" stroke="#000" stroke-width="1.0"/>
<circle cx="409.79" cy="681.80" r="8.7" fill="#2ca02c" stroke="#000" stroke-width="1.0"/>
<circle cx="419.40" cy="681.80" r="8.7" fill="#2ca02c" stroke="#000" stroke-width="1.0"/>
<circle cx="429.00" cy="681.80" r="8.7" fill="#2ca02c" stroke="#000" stroke-width="1.0"/>
<circle cx="438.61" cy="681.80" r="8.7" fill="#2ca02c" stroke="#000" stroke-width="1.0"/>
</g>
<rect x="136.5" y="525.9" width="316.60" height="311.60" fill="none" stroke="#000" stroke-width="3.2" stroke-linejoin="miter"/>
<line x1="136.5" y1="681.8" x2="142.5" y2="681.8" stroke="#000" stroke-width="2.8"/>
<line x1="131.90" y1="634.90" x2="136.5" y2="634.90" stroke="#000" stroke-width="1.5"/>
<line x1="131.90" y1="790.70" x2="136.5" y2="790.70" stroke="#000" stroke-width="1.5"/>
<line x1="131.90" y1="607.46" x2="136.5" y2="607.46" stroke="#000" stroke-width="1.5"/>
<line x1="131.90" y1="763.26" x2="136.5" y2="763.26" stroke="#000" stroke-width="1.5"/>
<line x1="131.90" y1="588.00" x2="136.5" y2="588.00" stroke="#000" stroke-width="1.5"/>
<line x1="131.90" y1="743.80" x2="136.5" y2="743.80" stroke="#000" stroke-width="1.5"/>
<line x1="131.90" y1="572.90" x2="136.5" y2="572.90" stroke="#000" stroke-width="1.5"/>
<line x1="131.90" y1="728.70" x2="136.5" y2="728.70" stroke="#000" stroke-width="1.5"/>
<line x1="131.90" y1="560.56" x2="136.5" y2="560.56" stroke="#000" stroke-width="1.5"/>
<line x1="131.90" y1="716.36" x2="136.5" y2="716.36" stroke="#000" stroke-width="1.5"/>
<line x1="131.90" y1="550.13" x2="136.5" y2="550.13" stroke="#000" stroke-width="1.5"/>
<line x1="131.90" y1="705.93" x2="136.5" y2="705.93" stroke="#000" stroke-width="1.5"/>
<line x1="131.90" y1="541.10" x2="136.5" y2="541.10" stroke="#000" stroke-width="1.5"/>
<line x1="131.90" y1="696.90" x2="136.5" y2="696.90" stroke="#000" stroke-width="1.5"/>
<line x1="131.90" y1="533.13" x2="136.5" y2="533.13" stroke="#000" stroke-width="1.5"/>
<line x1="131.90" y1="688.93" x2="136.5" y2="688.93" stroke="#000" stroke-width="1.5"/>
<line x1="150.4" y1="837.5" x2="150.4" y2="831.5" stroke="#000" stroke-width="2.8"/>
<line x1="438.6" y1="837.5" x2="438.6" y2="831.5" stroke="#000" stroke-width="2.8"/>
<text class="r" transform="translate(48.01 513.04) scale(0.3620 0.4070)">(c)</text>
<text class="r" transform="translate(83.12 539.72) scale(0.3387 0.3883)">10</text>
<text class="r" transform="translate(116.58 525.80) scale(0.2301 0.2590)">1</text>
<text class="r" transform="translate(82.79 695.04) scale(0.3421 0.3734)">10</text>
<text class="r" transform="translate(116.54 681.84) scale(0.2525 0.2667)">0</text>
<text class="r" transform="translate(63.27 851.43) scale(0.3444 0.3809)">10</text>
<rect x="98.9" y="830.0" width="15.8" height="1.9" fill="#000"/>
<text class="r" transform="translate(116.53 838.00) scale(0.2358 0.2711)">1</text>
<text class="r" transform="translate(113.52 647.66) rotate(-90) scale(0.3682 0.3885)">SPD</text>
<text class="r" transform="translate(141.68 870.30) scale(0.3437 0.3636)">1</text>
<text class="r" transform="translate(420.78 870.34) scale(0.3385 0.3676)">31</text>
<text class="r" transform="translate(212.66 871.66) scale(0.3613 0.3496)">Lead Index</text>
<circle cx="158.00" cy="728.80" r="8.7" fill="#1f77b4" stroke="#000" stroke-width="1.0"/>
<path d="M158.00,762.80 L155.91,769.23 L149.16,769.23 L154.62,773.20 L152.53,779.62 L158.00,775.65 L163.47,779.62 L161.38,773.20 L166.84,769.23 L160.09,769.23Z" fill="#ff7f0e" stroke="#000" stroke-width="1.0" stroke-linejoin="bevel"/>
<circle cx="158.00" cy="815.70" r="8.7" fill="#2ca02c" stroke="#000" stroke-width="1.0"/>
<text class="i" transform="translate(190.46 738.75) scale(0.3566 0.3627)">δ</text>
<rect x="219.30" y="725.70" width="23.7" height="1.7" fill="#000"/>
<rect x="219.30" y="732.30" width="23.7" height="1.7" fill="#000"/>
<text class="r" transform="translate(252.99 738.99) scale(0.3449 0.3637)">0.05</text>
<text class="i" transform="translate(190.46 782.04) scale(0.3566 0.3642)">δ</text>
<rect x="219.30" y="768.90" width="23.7" height="1.7" fill="#000"/>
<rect x="219.30" y="775.50" width="23.7" height="1.7" fill="#000"/>
<text class="r" transform="translate(252.99 782.89) scale(0.3447 0.3637)">0.10</text>
<text class="i" transform="translate(190.46 825.65) scale(0.3566 0.3599)">δ</text>
<rect x="219.30" y="812.80" width="23.7" height="1.7" fill="#000"/>
<rect x="219.30" y="819.40" width="23.7" height="1.7" fill="#000"/>
<text class="r" transform="translate(253.29 825.50) scale(0.3430 0.3534)">1.00</text>
<clipPath id="clipd"><rect x="589.6" y="525.9" width="316.5" height="311.6"/></clipPath>
<g clip-path="url(#clipd)">
<circle cx="603.50" cy="540.30" r="8.7" fill="#1f77b4" stroke="#000" stroke-width="1.0"/>
<circle cx="613.10" cy="549.10" r="8.7" fill="#1f77b4" stroke="#000" stroke-width="1.0"/>
<circle cx="622.70" cy="558.90" r="8.7" fill="#1f77b4" stroke="#000" stroke-width="1.0"/>
<circle cx="632.30" cy="567.30" r="8.7" fill="#1f77b4" stroke="#000" stroke-width="1.0"/>
<circle cx="641.90" cy="577.00" r="8.7" fill="#1f77b4" stroke="#000" stroke-width="1.0"/>
<circle cx="651.50" cy="587.00" r="8.7" fill="#1f77b4" stroke="#000" stroke-width="1.0"/>
<circle cx="661.10" cy="597.00" r="8.7" fill="#1f77b4" stroke="#000" stroke-width="1.0"/>
<circle cx="670.70" cy="607.00" r="8.7" fill="#1f77b4" stroke="#000" stroke-width="1.0"/>
<circle cx="680.30" cy="615.00" r="8.7" fill="#1f77b4" stroke="#000" stroke-width="1.0"/>
<circle cx="689.90" cy="623.90" r="8.7" fill="#1f77b4" stroke="#000" stroke-width="1.0"/>
<circle cx="699.50" cy="631.50" r="8.7" fill="#1f77b4" stroke="#000" stroke-width="1.0"/>
<circle cx="709.10" cy="639.10" r="8.7" fill="#1f77b4" stroke="#000" stroke-width="1.0"/>
<circle cx="718.70" cy="646.70" r="8.7" fill="#1f77b4" stroke="#000" stroke-width="1.0"/>
<circle cx="728.30" cy="655.20" r="8.7" fill="#1f77b4" stroke="#000" stroke-width="1.0"/>
<circle cx="737.90" cy="663.60" r="8.7" fill="#1f77b4" stroke="#000" stroke-width="1.0"/>
<circle cx="747.50" cy="670.00" r="8.7" fill="#1f77b4" stroke="#000" stroke-width="1.0"/>
<circle cx="757.10" cy="676.40" r="8.7" fill="#1f77b4" stroke="#000" stroke-width="1.0"/>
<circle cx="766.70" cy="684.50" r="8.7" fill="#1f77b4" stroke="#000" stroke-width="1.0"/>
<circle cx="776.30" cy="690.50" r="8.7" fill="#1f77b4" stroke="#000" stroke-width="1.0"/>
<circle cx="785.90" cy="697.30" r="8.7" fill="#1f77b4" stroke="#000" stroke-width="1.0"/>
<circle cx="795.50" cy="705.00" r="8.7" fill="#1f77b4" stroke="#000" stroke-width="1.0"/>
<circle cx="805.10" cy="713.00" r="8.7" fill="#1f77b4" stroke="#000" stroke-width="1.0"/>
<circle cx="814.70" cy="722.80" r="8.7" fill="#1f77b4" stroke="#000" stroke-width="1.0"/>
<circle cx="824.30" cy="733.10" r="8.7" fill="#1f77b4" stroke="#000" stroke-width="1.0"/>
<circle cx="833.90" cy="742.60" r="8.7" fill="#1f77b4" stroke="#000" stroke-width="1.0"/>
<circle cx="843.50" cy="752.10" r="8.7" fill="#1f77b4" stroke="#000" stroke-width="1.0"/>
<circle cx="853.10" cy="760.80" r="8.7" fill="#1f77b4" stroke="#000" stroke-width="1.0"/>
<circle cx="862.70" cy="771.90" r="8.7" fill="#1f77b4" stroke="#000" stroke-width="1.0"/>
<circle cx="872.30" cy="783.80" r="8.7" fill="#1f77b4" stroke="#000" stroke-width="1.0"/>
<circle cx="881.90" cy="800.40" r="8.7" fill="#1f77b4" stroke="#000" stroke-width="1.0"/>
<circle cx="891.50" cy="823.40" r="8.7" fill="#1f77b4" stroke="#000" stroke-width="1.0"/>
<path d="M603.50,532.80 L601.43,539.16 L594.75,539.16 L600.16,543.09 L598.09,549.44 L603.50,545.51 L608.91,549.44 L606.84,543.09 L612.25,539.16 L605.57,539.16Z" fill="#ff7f0e" stroke="#000" stroke-width="1.0" stroke-linejoin="bevel"/>
<path d="M613.10,542.10 L611.03,548.46 L604.35,548.46 L609.76,552.39 L607.69,558.74 L613.10,554.81 L618.51,558.74 L616.44,552.39 L621.85,548.46 L615.17,548.46Z" fill="#ff7f0e" stroke="#000" stroke-width="1.0" stroke-linejoin="bevel"/>
<path d="M622.70,550.50 L620.63,556.86 L613.95,556.86 L619.36,560.79 L617.29,567.14 L622.70,563.21 L628.11,567.14 L626.04,560.79 L631.45,556.86 L624.77,556.86Z" fill="#ff7f0e" stroke="#000" stroke-width="1.0" stroke-linejoin="bevel"/>
<path d="M632.30,557.80 L630.23,564.16 L623.55,564.16 L628.96,568.09 L626.89,574.44 L632.30,570.51 L637.71,574.44 L635.64,568.09 L641.05,564.16 L634.37,564.16Z" fill="#ff7f0e" stroke="#000" stroke-width="1.0" stroke-linejoin="bevel"/>
<path d="M641.90,563.20 L639.83,569.56 L633.15,569.56 L638.56,573.49 L636.49,579.84 L641.90,575.91 L647.31,579.84 L645.24,573.49 L650.65,569.56 L643.97,569.56Z" fill="#ff7f0e" stroke="#000" stroke-width="1.0" stroke-linejoin="bevel"/>
<path d="M651.50,571.80 L649.43,578.16 L642.75,578.16 L648.16,582.09 L646.09,588.44 L651.50,584.51 L656.91,588.44 L654.84,582.09 L660.25,578.16 L653.57,578.16Z" fill="#ff7f0e" stroke="#000" stroke-width="1.0" stroke-linejoin="bevel"/>
<path d="M661.10,580.80 L659.03,587.16 L652.35,587.16 L657.76,591.09 L655.69,597.44 L661.10,593.51 L666.51,597.44 L664.44,591.09 L669.85,587.16 L663.17,587.16Z" fill="#ff7f0e" stroke="#000" stroke-width="1.0" stroke-linejoin="bevel"/>
<path d="M670.70,589.30 L668.63,595.66 L661.95,595.66 L667.36,599.59 L665.29,605.94 L670.70,602.01 L676.11,605.94 L674.04,599.59 L679.45,595.66 L672.77,595.66Z" fill="#ff7f0e" stroke="#000" stroke-width="1.0" stroke-linejoin="bevel"/>
<path d="M680.30,595.00 L678.23,601.36 L671.55,601.36 L676.96,605.29 L674.89,611.64 L680.30,607.71 L685.71,611.64 L683.64,605.29 L689.05,601.36 L682.37,601.36Z" fill="#ff7f0e" stroke="#000" stroke-width="1.0" stroke-linejoin="bevel"/>
<path d="M689.90,603.50 L687.83,609.86 L681.15,609.86 L686.56,613.79 L684.49,620.14 L689.90,616.21 L695.31,620.14 L693.24,613.79 L698.65,609.86 L691.97,609.86Z" fill="#ff7f0e" stroke="#000" stroke-width="1.0" stroke-linejoin="bevel"/>
<path d="M699.50,612.40 L697.43,618.76 L690.75,618.76 L696.16,622.69 L694.09,629.04 L699.50,625.11 L704.91,629.04 L702.84,622.69 L708.25,618.76 L701.57,618.76Z" fill="#ff7f0e" stroke="#000" stroke-width="1.0" stroke-linejoin="bevel"/>
<path d="M709.10,618.10 L707.03,624.46 L700.35,624.46 L705.76,628.39 L703.69,634.74 L709.10,630.81 L714.51,634.74 L712.44,628.39 L717.85,624.46 L711.17,624.46Z" fill="#ff7f0e" stroke="#000" stroke-width="1.0" stroke-linejoin="bevel"/>
<path d="M718.70,624.00 L716.63,630.36 L709.95,630.36 L715.36,634.29 L713.29,640.64 L718.70,636.71 L724.11,640.64 L722.04,634.29 L727.45,630.36 L720.77,630.36Z" fill="#ff7f0e" stroke="#000" stroke-width="1.0" stroke-linejoin="bevel"/>
<path d="M728.30,629.90 L726.23,636.26 L719.55,636.26 L724.96,640.19 L722.89,646.54 L728.30,642.61 L733.71,646.54 L731.64,640.19 L737.05,636.26 L730.37,636.26Z" fill="#ff7f0e" stroke="#000" stroke-width="1.0" stroke-linejoin="bevel"/>
<path d="M737.90,635.00 L735.83,641.36 L729.15,641.36 L734.56,645.29 L732.49,651.64 L737.90,647.71 L743.31,651.64 L741.24,645.29 L746.65,641.36 L739.97,641.36Z" fill="#ff7f0e" stroke="#000" stroke-width="1.0" stroke-linejoin="bevel"/>
<path d="M747.50,638.80 L745.43,645.16 L738.75,645.16 L744.16,649.09 L742.09,655.44 L747.50,651.51 L752.91,655.44 L750.84,649.09 L756.25,645.16 L749.57,645.16Z" fill="#ff7f0e" stroke="#000" stroke-width="1.0" stroke-linejoin="bevel"/>
<path d="M757.10,643.00 L755.03,649.36 L748.35,649.36 L753.76,653.29 L751.69,659.64 L757.10,655.71 L762.51,659.64 L760.44,653.29 L765.85,649.36 L759.17,649.36Z" fill="#ff7f0e" stroke="#000" stroke-width="1.0" stroke-linejoin="bevel"/>
<path d="M766.70,647.50 L764.63,653.86 L757.95,653.86 L763.36,657.79 L761.29,664.14 L766.70,660.21 L772.11,664.14 L770.04,657.79 L775.45,653.86 L768.77,653.86Z" fill="#ff7f0e" stroke="#000" stroke-width="1.0" stroke-linejoin="bevel"/>
<path d="M776.30,652.00 L774.23,658.36 L767.55,658.36 L772.96,662.29 L770.89,668.64 L776.30,664.71 L781.71,668.64 L779.64,662.29 L785.05,658.36 L778.37,658.36Z" fill="#ff7f0e" stroke="#000" stroke-width="1.0" stroke-linejoin="bevel"/>
<path d="M785.90,657.30 L783.83,663.66 L777.15,663.66 L782.56,667.59 L780.49,673.94 L785.90,670.01 L791.31,673.94 L789.24,667.59 L794.65,663.66 L787.97,663.66Z" fill="#ff7f0e" stroke="#000" stroke-width="1.0" stroke-linejoin="bevel"/>
<path d="M795.50,663.60 L793.43,669.96 L786.75,669.96 L792.16,673.89 L790.09,680.24 L795.50,676.31 L800.91,680.24 L798.84,673.89 L804.25,669.96 L797.57,669.96Z" fill="#ff7f0e" stroke="#000" stroke-width="1.0" stroke-linejoin="bevel"/>
<path d="M805.10,669.00 L803.03,675.36 L796.35,675.36 L801.76,679.29 L799.69,685.64 L805.10,681.71 L810.51,685.64 L808.44,679.29 L813.85,675.36 L807.17,675.36Z" fill="#ff7f0e" stroke="#000" stroke-width="1.0" stroke-linejoin="bevel"/>
<path d="M814.70,678.70 L812.63,685.06 L805.95,685.06 L811.36,688.99 L809.29,695.34 L814.70,691.41 L820.11,695.34 L818.04,688.99 L823.45,685.06 L816.77,685.06Z" fill="#ff7f0e" stroke="#000" stroke-width="1.0" stroke-linejoin="bevel"/>
<path d="M824.30,688.40 L822.23,694.76 L815.55,694.76 L820.96,698.69 L818.89,705.04 L824.30,701.11 L829.71,705.04 L827.64,698.69 L833.05,694.76 L826.37,694.76Z" fill="#ff7f0e" stroke="#000" stroke-width="1.0" stroke-linejoin="bevel"/>
<path d="M833.90,699.80 L831.83,706.16 L825.15,706.16 L830.56,710.09 L828.49,716.44 L833.90,712.51 L839.31,716.44 L837.24,710.09 L842.65,706.16 L835.97,706.16Z" fill="#ff7f0e" stroke="#000" stroke-width="1.0" stroke-linejoin="bevel"/>
<path d="M843.50,708.80 L841.43,715.16 L834.75,715.16 L840.16,719.09 L838.09,725.44 L843.50,721.51 L848.91,725.44 L846.84,719.09 L852.25,715.16 L845.57,715.16Z" fill="#ff7f0e" stroke="#000" stroke-width="1.0" stroke-linejoin="bevel"/>
<path d="M853.10,717.50 L851.03,723.86 L844.35,723.86 L849.76,727.79 L847.69,734.14 L853.10,730.21 L858.51,734.14 L856.44,727.79 L861.85,723.86 L855.17,723.86Z" fill="#ff7f0e" stroke="#000" stroke-width="1.0" stroke-linejoin="bevel"/>
<path d="M862.70,727.00 L860.63,733.36 L853.95,733.36 L859.36,737.29 L857.29,743.64 L862.70,739.71 L868.11,743.64 L866.04,737.29 L871.45,733.36 L864.77,733.36Z" fill="#ff7f0e" stroke="#000" stroke-width="1.0" stroke-linejoin="bevel"/>
<path d="M872.30,739.70 L870.23,746.06 L863.55,746.06 L868.96,749.99 L866.89,756.34 L872.30,752.41 L877.71,756.34 L875.64,749.99 L881.05,746.06 L874.37,746.06Z" fill="#ff7f0e" stroke="#000" stroke-width="1.0" stroke-linejoin="bevel"/>
<path d="M881.90,755.50 L879.83,761.86 L873.15,761.86 L878.56,765.79 L876.49,772.14 L881.90,768.21 L887.31,772.14 L885.24,765.79 L890.65,761.86 L883.97,761.86Z" fill="#ff7f0e" stroke="#000" stroke-width="1.0" stroke-linejoin="bevel"/>
<path d="M891.50,780.10 L889.43,786.46 L882.75,786.46 L888.16,790.39 L886.09,796.74 L891.50,792.81 L896.91,796.74 L894.84,790.39 L900.25,786.46 L893.57,786.46Z" fill="#ff7f0e" stroke="#000" stroke-width="1.0" stroke-linejoin="bevel"/>
<circle cx="603.50" cy="581.00" r="8.7" fill="#2ca02c" stroke="#000" stroke-width="1.0"/>
<circle cx="613.10" cy="582.00" r="8.7" fill="#2ca02c" stroke="#000" stroke-width="1.0"/>
<circle cx="622.70" cy="583.00" r="8.7" fill="#2ca02c" stroke="#000" stroke-width="1.0"/>
<circle cx="632.30" cy="583.50" r="8.7" fill="#2ca02c" stroke="#000" stroke-width="1.0"/>
<circle cx="641.90" cy="584.00" r="8.7" fill="#2ca02c" stroke="#000" stroke-width="1.0"/>
<circle cx="651.50" cy="584.00" r="8.7" fill="#2ca02c" stroke="#000" stroke-width="1.0"/>
<circle cx="661.10" cy="584.50" r="8.7" fill="#2ca02c" stroke="#000" stroke-width="1.0"/>
<circle cx="670.70" cy="585.00" r="8.7" fill="#2ca02c" stroke="#000" stroke-width="1.0"/>
<circle cx="680.30" cy="585.00" r="8.7" fill="#2ca02c" stroke="#000" stroke-width="1.0"/>
<circle cx="689.90" cy="585.50" r="8.7" fill="#2ca02c" stroke="#000" stroke-width="1.0"/>
<circle cx="699.50" cy="586.00" r="8.7" fill="#2ca02c" stroke="#000" stroke-width="1.0"/>
<circle cx="709.10" cy="586.00" r="8.7" fill="#2ca02c" stroke="#000" stroke-width="1.0"/>
<circle cx="718.70" cy="586.50" r="8.7" fill="#2ca02c" stroke="#000" stroke-width="1.0"/>
<circle cx="728.30" cy="587.30" r="8.7" fill="#2ca02c" stroke="#000" stroke-width="1.0"/>
<circle cx="737.90" cy="588.00" r="8.7" fill="#2ca02c" stroke="#000" stroke-width="1.0"/>
<circle cx="747.50" cy="588.50" r="8.7" fill="#2ca02c" stroke="#000" stroke-width="1.0"/>
<circle cx="757.10" cy="587.00" r="8.7" fill="#2ca02c" stroke="#000" stroke-width="1.0"/>
<circle cx="766.70" cy="586.50" r="8.7" fill="#2ca02c" stroke="#000" stroke-width="1.0"/>
<circle cx="776.30" cy="587.60" r="8.7" fill="#2ca02c" stroke="#000" stroke-width="1.0"/>
<circle cx="785.90" cy="587.60" r="8.7" fill="#2ca02c" stroke="#000" stroke-width="1.0"/>
<circle cx="795.50" cy="587.60" r="8.7" fill="#2ca02c" stroke="#000" stroke-width="1.0"/>
<circle cx="805.10" cy="587.60" r="8.7" fill="#2ca02c" stroke="#000" stroke-width="1.0"/>
<circle cx="814.70" cy="586.70" r="8.7" fill="#2ca02c" stroke="#000" stroke-width="1.0"/>
<circle cx="824.30" cy="585.80" r="8.7" fill="#2ca02c" stroke="#000" stroke-width="1.0"/>
<circle cx="833.90" cy="583.10" r="8.7" fill="#2ca02c" stroke="#000" stroke-width="1.0"/>
<circle cx="843.50" cy="583.10" r="8.7" fill="#2ca02c" stroke="#000" stroke-width="1.0"/>
<circle cx="853.10" cy="583.10" r="8.7" fill="#2ca02c" stroke="#000" stroke-width="1.0"/>
<circle cx="862.70" cy="585.80" r="8.7" fill="#2ca02c" stroke="#000" stroke-width="1.0"/>
<circle cx="872.30" cy="588.10" r="8.7" fill="#2ca02c" stroke="#000" stroke-width="1.0"/>
<circle cx="881.90" cy="591.20" r="8.7" fill="#2ca02c" stroke="#000" stroke-width="1.0"/>
<circle cx="891.50" cy="593.00" r="8.7" fill="#2ca02c" stroke="#000" stroke-width="1.0"/>
</g>
<rect x="589.6" y="525.9" width="316.50" height="311.60" fill="none" stroke="#000" stroke-width="3.2" stroke-linejoin="miter"/>
<line x1="589.6" y1="545.0" x2="595.6" y2="545.0" stroke="#000" stroke-width="2.8"/>
<line x1="589.6" y1="584.5" x2="595.6" y2="584.5" stroke="#000" stroke-width="2.8"/>
<line x1="589.6" y1="783.4" x2="595.6" y2="783.4" stroke="#000" stroke-width="2.8"/>
<line x1="603.5" y1="837.5" x2="603.5" y2="831.5" stroke="#000" stroke-width="2.8"/>
<line x1="891.5" y1="837.5" x2="891.5" y2="831.5" stroke="#000" stroke-width="2.8"/>
<text class="r" transform="translate(500.03 513.12) scale(0.3794 0.3937)">(d)</text>
<text class="r" transform="translate(536.23 558.23) scale(0.3375 0.3749)">10</text>
<text class="r" transform="translate(570.05 544.60) scale(0.2216 0.2545)">1</text>
<text class="r" transform="translate(536.23 597.84) scale(0.3375 0.3705)">10</text>
<text class="r" transform="translate(569.44 584.64) scale(0.2525 0.2653)">0</text>
<text class="r" transform="translate(516.38 796.83) scale(0.3432 0.3749)">10</text>
<rect x="552.2" y="775.8" width="15.5" height="1.9" fill="#000"/>
<text class="r" transform="translate(568.91 783.54) scale(0.2557 0.2633)">5</text>
<text class="r" transform="translate(567.31 696.96) rotate(-90) scale(0.3820 0.4019)">SPD</text>
<text class="r" transform="translate(594.83 870.00) scale(0.3267 0.3363)">1</text>
<text class="r" transform="translate(874.11 870.34) scale(0.3318 0.3676)">31</text>
<text class="r" transform="translate(666.36 872.26) scale(0.3597 0.3468)">Lead Index</text>
<circle cx="612.70" cy="725.50" r="8.7" fill="#1f77b4" stroke="#000" stroke-width="1.0"/>
<path d="M612.70,759.50 L610.61,765.93 L603.86,765.93 L609.32,769.90 L607.23,776.32 L612.70,772.35 L618.17,776.32 L616.08,769.90 L621.54,765.93 L614.79,765.93Z" fill="#ff7f0e" stroke="#000" stroke-width="1.0" stroke-linejoin="bevel"/>
<circle cx="612.70" cy="812.40" r="8.7" fill="#2ca02c" stroke="#000" stroke-width="1.0"/>
<text class="i" transform="translate(645.16 735.45) scale(0.3566 0.3627)">δ</text>
<rect x="674.00" y="722.40" width="23.7" height="1.7" fill="#000"/>
<rect x="674.00" y="729.00" width="23.7" height="1.7" fill="#000"/>
<text class="r" transform="translate(707.69 735.69) scale(0.3449 0.3637)">0.05</text>
<text class="i" transform="translate(645.16 778.74) scale(0.3566 0.3642)">δ</text>
<rect x="674.00" y="765.60" width="23.7" height="1.7" fill="#000"/>
<rect x="674.00" y="772.20" width="23.7" height="1.7" fill="#000"/>
<text class="r" transform="translate(707.69 779.59) scale(0.3447 0.3637)">0.10</text>
<text class="i" transform="translate(645.16 822.35) scale(0.3566 0.3599)">δ</text>
<rect x="674.00" y="809.50" width="23.7" height="1.7" fill="#000"/>
<rect x="674.00" y="816.10" width="23.7" height="1.7" fill="#000"/>
<text class="r" transform="translate(707.99 822.20) scale(0.3430 0.3534)">1.00</text>
<clipPath id="clipe"><rect x="136.5" y="969.7" width="316.6" height="218.0"/></clipPath>
<line x1="136.5" y1="1156.5" x2="453.1" y2="1156.5" stroke="#000" stroke-width="1.6" stroke-dasharray="5.9 2.6"/>
<g clip-path="url(#clipe)">
<circle cx="150.40" cy="1156.60" r="8.0" fill="#1f77b4" stroke="#000" stroke-width="2.0"/>
<circle cx="157.10" cy="1156.60" r="8.0" fill="#1f77b4" stroke="#000" stroke-width="2.0"/>
<circle cx="163.80" cy="1156.69" r="8.0" fill="#1f77b4" stroke="#000" stroke-width="2.0"/>
<circle cx="170.50" cy="1156.95" r="8.0" fill="#1f77b4" stroke="#000" stroke-width="2.0"/>
<circle cx="177.20" cy="1157.34" r="8.0" fill="#1f77b4" stroke="#000" stroke-width="2.0"/>
<circle cx="183.90" cy="1157.85" r="8.0" fill="#1f77b4" stroke="#000" stroke-width="2.0"/>
<circle cx="190.60" cy="1158.44" r="8.0" fill="#1f77b4" stroke="#000" stroke-width="2.0"/>
<circle cx="197.30" cy="1159.10" r="8.0" fill="#1f77b4" stroke="#000" stroke-width="2.0"/>
<circle cx="204.00" cy="1159.80" r="8.0" fill="#1f77b4" stroke="#000" stroke-width="2.0"/>
<circle cx="210.70" cy="1160.50" r="8.0" fill="#1f77b4" stroke="#000" stroke-width="2.0"/>
<circle cx="217.40" cy="1161.20" r="8.0" fill="#1f77b4" stroke="#000" stroke-width="2.0"/>
<circle cx="224.10" cy="1161.86" r="8.0" fill="#1f77b4" stroke="#000" stroke-width="2.0"/>
<circle cx="230.80" cy="1162.45" r="8.0" fill="#1f77b4" stroke="#000" stroke-width="2.0"/>
<circle cx="237.50" cy="1162.96" r="8.0" fill="#1f77b4" stroke="#000" stroke-width="2.0"/>
<circle cx="244.20" cy="1163.35" r="8.0" fill="#1f77b4" stroke="#000" stroke-width="2.0"/>
<circle cx="250.90" cy="1163.61" r="8.0" fill="#1f77b4" stroke="#000" stroke-width="2.0"/>
<circle cx="257.60" cy="1163.70" r="8.0" fill="#1f77b4" stroke="#000" stroke-width="2.0"/>
<circle cx="264.30" cy="1163.70" r="8.0" fill="#1f77b4" stroke="#000" stroke-width="2.0"/>
<circle cx="271.00" cy="1163.70" r="8.0" fill="#1f77b4" stroke="#000" stroke-width="2.0"/>
<circle cx="277.70" cy="1163.70" r="8.0" fill="#1f77b4" stroke="#000" stroke-width="2.0"/>
<circle cx="284.40" cy="1163.70" r="8.0" fill="#1f77b4" stroke="#000" stroke-width="2.0"/>
<circle cx="291.10" cy="1163.70" r="8.0" fill="#1f77b4" stroke="#000" stroke-width="2.0"/>
<circle cx="297.80" cy="1163.41" r="8.0" fill="#1f77b4" stroke="#000" stroke-width="2.0"/>
<circle cx="304.50" cy="1163.13" r="8.0" fill="#1f77b4" stroke="#000" stroke-width="2.0"/>
<circle cx="311.20" cy="1162.84" r="8.0" fill="#1f77b4" stroke="#000" stroke-width="2.0"/>
<circle cx="317.90" cy="1162.55" r="8.0" fill="#1f77b4" stroke="#000" stroke-width="2.0"/>
<circle cx="324.60" cy="1162.27" r="8.0" fill="#1f77b4" stroke="#000" stroke-width="2.0"/>
<circle cx="331.30" cy="1161.98" r="8.0" fill="#1f77b4" stroke="#000" stroke-width="2.0"/>
<circle cx="338.00" cy="1161.70" r="8.0" fill="#1f77b4" stroke="#000" stroke-width="2.0"/>
<circle cx="344.70" cy="1161.41" r="8.0" fill="#1f77b4" stroke="#000" stroke-width="2.0"/>
<circle cx="351.40" cy="1161.12" r="8.0" fill="#1f77b4" stroke="#000" stroke-width="2.0"/>
<circle cx="358.10" cy="1160.84" r="8.0" fill="#1f77b4" stroke="#000" stroke-width="2.0"/>
<circle cx="364.80" cy="1160.55" r="8.0" fill="#1f77b4" stroke="#000" stroke-width="2.0"/>
<circle cx="371.50" cy="1160.26" r="8.0" fill="#1f77b4" stroke="#000" stroke-width="2.0"/>
<circle cx="378.20" cy="1159.98" r="8.0" fill="#1f77b4" stroke="#000" stroke-width="2.0"/>
<circle cx="384.90" cy="1159.69" r="8.0" fill="#1f77b4" stroke="#000" stroke-width="2.0"/>
<circle cx="391.60" cy="1159.40" r="8.0" fill="#1f77b4" stroke="#000" stroke-width="2.0"/>
<circle cx="398.30" cy="1159.12" r="8.0" fill="#1f77b4" stroke="#000" stroke-width="2.0"/>
<circle cx="405.00" cy="1158.83" r="8.0" fill="#1f77b4" stroke="#000" stroke-width="2.0"/>
<circle cx="411.70" cy="1158.55" r="8.0" fill="#1f77b4" stroke="#000" stroke-width="2.0"/>
<circle cx="418.40" cy="1158.26" r="8.0" fill="#1f77b4" stroke="#000" stroke-width="2.0"/>
<circle cx="425.10" cy="1157.97" r="8.0" fill="#1f77b4" stroke="#000" stroke-width="2.0"/>
<circle cx="431.80" cy="1157.69" r="8.0" fill="#1f77b4" stroke="#000" stroke-width="2.0"/>
<circle cx="438.50" cy="1157.40" r="8.0" fill="#1f77b4" stroke="#000" stroke-width="2.0"/>
</g>
<rect x="136.5" y="969.7" width="316.60" height="218.00" fill="none" stroke="#000" stroke-width="3.2" stroke-linejoin="miter"/>
<line x1="136.5" y1="1000.4" x2="142.5" y2="1000.4" stroke="#000" stroke-width="2.8"/>
<line x1="136.5" y1="1156.5" x2="142.5" y2="1156.5" stroke="#000" stroke-width="2.8"/>
<line x1="150.4" y1="1187.7" x2="150.4" y2="1181.7" stroke="#000" stroke-width="2.8"/>
<line x1="418.4" y1="1187.7" x2="418.4" y2="1181.7" stroke="#000" stroke-width="2.8"/>
<text class="r" transform="translate(48.01 968.57) scale(0.3620 0.3959)">(e)</text>
<text class="r" transform="translate(110.83 1012.90) scale(0.3607 0.3363)">1</text>
<text class="r" transform="translate(112.10 1169.84) scale(0.3421 0.3734)">0</text>
<text class="r" transform="translate(141.15 1220.96) scale(0.3799 0.3453)">0</text>
<text class="r" transform="translate(408.78 1220.00) scale(0.3551 0.3484)">1</text>
<text class="i" transform="translate(247.47 1262.13) scale(0.3521 0.3783)">δ</text>
<text class="r" transform="translate(266.40 1270.17) scale(0.5183 0.5426)">/</text>
<rect x="286.90" y="1234.40" width="1.7" height="36.3" fill="#000"/>
<text class="i" transform="translate(294.97 1262.50) scale(0.4008 0.3879)">M</text>
<rect x="335.20" y="1234.40" width="1.7" height="36.3" fill="#000"/>
<polyline points="85.2,1044.4 102.4,1037.5 119.5,1044.4" fill="none" stroke="#000" stroke-width="1.5"/>
<text class="r" transform="translate(117.15 1081.76) rotate(-90) scale(0.2646 0.2665)">PD</text>
<g transform="translate(0.0 0)" fill="none" stroke="#000" stroke-linecap="round"><path d="M100.8,1105.2 C96.8,1104.2 94.8,1101.5 96.6,1099.3 C99.5,1100.2 103.5,1101.9 106.3,1102.0 C109.8,1102.0 111.6,1099.2 111.2,1096.8 C110.9,1095.2 110.0,1094.3 108.8,1094.0 L96.4,1090.8" stroke-width="1.3"/><path d="M108.8,1094.0 C110.5,1093.6 111.6,1092.0 111.3,1090.0 C110.8,1087.0 108.0,1085.0 104.0,1084.2 C101.0,1083.6 98.5,1083.8 96.6,1084.4" stroke-width="1.3"/><path d="M97.2,1099.6 C100,1100.5 103,1101.6 106.0,1101.9" stroke-width="2.1"/><path d="M108.5,1093.8 L97.0,1090.9" stroke-width="2.1"/><circle cx="97.0" cy="1084.6" r="1.35" fill="#000" stroke="none"/></g>
<polyline points="85.2,1108.5 102.4,1115.3 119.5,1108.5" fill="none" stroke="#000" stroke-width="1.5"/>
<clipPath id="clipf"><rect x="589.6" y="969.7" width="316.5" height="218.0"/></clipPath>
<line x1="589.6" y1="1156.5" x2="906.1" y2="1156.5" stroke="#000" stroke-width="1.6" stroke-dasharray="5.9 2.6"/>
<g clip-path="url(#clipf)">
<circle cx="603.50" cy="1000.30" r="8.0" fill="#1f77b4" stroke="#000" stroke-width="2.0"/>
<circle cx="610.20" cy="1000.30" r="8.0" fill="#1f77b4" stroke="#000" stroke-width="2.0"/>
<circle cx="616.90" cy="1000.30" r="8.0" fill="#1f77b4" stroke="#000" stroke-width="2.0"/>
<circle cx="623.60" cy="1001.60" r="8.0" fill="#1f77b4" stroke="#000" stroke-width="2.0"/>
<circle cx="630.30" cy="1000.30" r="8.0" fill="#1f77b4" stroke="#000" stroke-width="2.0"/>
<circle cx="637.00" cy="1001.10" r="8.0" fill="#1f77b4" stroke="#000" stroke-width="2.0"/>
<circle cx="643.70" cy="1003.20" r="8.0" fill="#1f77b4" stroke="#000" stroke-width="2.0"/>
<circle cx="650.40" cy="1007.70" r="8.0" fill="#1f77b4" stroke="#000" stroke-width="2.0"/>
<circle cx="657.10" cy="1020.10" r="8.0" fill="#1f77b4" stroke="#000" stroke-width="2.0"/>
<circle cx="663.80" cy="1043.10" r="8.0" fill="#1f77b4" stroke="#000" stroke-width="2.0"/>
<circle cx="670.50" cy="1074.00" r="8.0" fill="#1f77b4" stroke="#000" stroke-width="2.0"/>
<circle cx="677.20" cy="1107.70" r="8.0" fill="#1f77b4" stroke="#000" stroke-width="2.0"/>
<circle cx="683.90" cy="1135.40" r="8.0" fill="#1f77b4" stroke="#000" stroke-width="2.0"/>
<circle cx="690.60" cy="1152.30" r="8.0" fill="#1f77b4" stroke="#000" stroke-width="2.0"/>
<circle cx="697.30" cy="1161.30" r="8.0" fill="#1f77b4" stroke="#000" stroke-width="2.0"/>
<circle cx="704.00" cy="1166.10" r="8.0" fill="#1f77b4" stroke="#000" stroke-width="2.0"/>
<circle cx="710.70" cy="1167.60" r="8.0" fill="#1f77b4" stroke="#000" stroke-width="2.0"/>
<circle cx="717.40" cy="1168.20" r="8.0" fill="#1f77b4" stroke="#000" stroke-width="2.0"/>
<circle cx="724.10" cy="1167.60" r="8.0" fill="#1f77b4" stroke="#000" stroke-width="2.0"/>
<circle cx="730.80" cy="1167.10" r="8.0" fill="#1f77b4" stroke="#000" stroke-width="2.0"/>
<circle cx="737.50" cy="1166.72" r="8.0" fill="#1f77b4" stroke="#000" stroke-width="2.0"/>
<circle cx="744.20" cy="1166.33" r="8.0" fill="#1f77b4" stroke="#000" stroke-width="2.0"/>
<circle cx="750.90" cy="1165.95" r="8.0" fill="#1f77b4" stroke="#000" stroke-width="2.0"/>
<circle cx="757.60" cy="1165.57" r="8.0" fill="#1f77b4" stroke="#000" stroke-width="2.0"/>
<circle cx="764.30" cy="1165.18" r="8.0" fill="#1f77b4" stroke="#000" stroke-width="2.0"/>
<circle cx="771.00" cy="1164.80" r="8.0" fill="#1f77b4" stroke="#000" stroke-width="2.0"/>
<circle cx="777.70" cy="1164.42" r="8.0" fill="#1f77b4" stroke="#000" stroke-width="2.0"/>
<circle cx="784.40" cy="1164.03" r="8.0" fill="#1f77b4" stroke="#000" stroke-width="2.0"/>
<circle cx="791.10" cy="1163.65" r="8.0" fill="#1f77b4" stroke="#000" stroke-width="2.0"/>
<circle cx="797.80" cy="1163.27" r="8.0" fill="#1f77b4" stroke="#000" stroke-width="2.0"/>
<circle cx="804.50" cy="1162.88" r="8.0" fill="#1f77b4" stroke="#000" stroke-width="2.0"/>
<circle cx="811.20" cy="1162.50" r="8.0" fill="#1f77b4" stroke="#000" stroke-width="2.0"/>
<circle cx="817.90" cy="1162.12" r="8.0" fill="#1f77b4" stroke="#000" stroke-width="2.0"/>
<circle cx="824.60" cy="1161.73" r="8.0" fill="#1f77b4" stroke="#000" stroke-width="2.0"/>
<circle cx="831.30" cy="1161.35" r="8.0" fill="#1f77b4" stroke="#000" stroke-width="2.0"/>
<circle cx="838.00" cy="1160.97" r="8.0" fill="#1f77b4" stroke="#000" stroke-width="2.0"/>
<circle cx="844.70" cy="1160.58" r="8.0" fill="#1f77b4" stroke="#000" stroke-width="2.0"/>
<circle cx="851.40" cy="1160.20" r="8.0" fill="#1f77b4" stroke="#000" stroke-width="2.0"/>
<circle cx="858.10" cy="1159.82" r="8.0" fill="#1f77b4" stroke="#000" stroke-width="2.0"/>
<circle cx="864.80" cy="1159.43" r="8.0" fill="#1f77b4" stroke="#000" stroke-width="2.0"/>
<circle cx="871.50" cy="1159.05" r="8.0" fill="#1f77b4" stroke="#000" stroke-width="2.0"/>
<circle cx="878.20" cy="1158.67" r="8.0" fill="#1f77b4" stroke="#000" stroke-width="2.0"/>
<circle cx="884.90" cy="1158.28" r="8.0" fill="#1f77b4" stroke="#000" stroke-width="2.0"/>
<circle cx="891.60" cy="1157.90" r="8.0" fill="#1f77b4" stroke="#000" stroke-width="2.0"/>
</g>
<rect x="589.6" y="969.7" width="316.50" height="218.00" fill="none" stroke="#000" stroke-width="3.2" stroke-linejoin="miter"/>
<line x1="589.6" y1="1000.4" x2="595.6" y2="1000.4" stroke="#000" stroke-width="2.8"/>
<line x1="589.6" y1="1156.5" x2="595.6" y2="1156.5" stroke="#000" stroke-width="2.8"/>
<line x1="603.5" y1="1187.7" x2="603.5" y2="1181.7" stroke="#000" stroke-width="2.8"/>
<line x1="871.5" y1="1187.7" x2="871.5" y2="1181.7" stroke="#000" stroke-width="2.8"/>
<text class="r" transform="translate(500.05 968.51) scale(0.3765 0.3893)">(f)</text>
<text class="r" transform="translate(563.83 1012.90) scale(0.3607 0.3363)">1</text>
<text class="r" transform="translate(565.10 1169.84) scale(0.3421 0.3734)">0</text>
<text class="r" transform="translate(594.15 1220.96) scale(0.3799 0.3453)">0</text>
<text class="r" transform="translate(861.78 1220.00) scale(0.3551 0.3484)">1</text>
<text class="i" transform="translate(700.47 1262.13) scale(0.3521 0.3783)">δ</text>
<text class="r" transform="translate(719.40 1270.17) scale(0.5183 0.5426)">/</text>
<rect x="739.90" y="1234.40" width="1.7" height="36.3" fill="#000"/>
<text class="i" transform="translate(747.97 1262.50) scale(0.4008 0.3879)">M</text>
<rect x="788.20" y="1234.40" width="1.7" height="36.3" fill="#000"/>
<polyline points="538.2,1044.4 555.4,1037.5 572.5,1044.4" fill="none" stroke="#000" stroke-width="1.5"/>
<text class="r" transform="translate(570.15 1081.76) rotate(-90) scale(0.2646 0.2665)">PD</text>
<g transform="translate(453.0 0)" fill="none" stroke="#000" stroke-linecap="round"><path d="M100.8,1105.2 C96.8,1104.2 94.8,1101.5 96.6,1099.3 C99.5,1100.2 103.5,1101.9 106.3,1102.0 C109.8,1102.0 111.6,1099.2 111.2,1096.8 C110.9,1095.2 110.0,1094.3 108.8,1094.0 L96.4,1090.8" stroke-width="1.3"/><path d="M108.8,1094.0 C110.5,1093.6 111.6,1092.0 111.3,1090.0 C110.8,1087.0 108.0,1085.0 104.0,1084.2 C101.0,1083.6 98.5,1083.8 96.6,1084.4" stroke-width="1.3"/><path d="M97.2,1099.6 C100,1100.5 103,1101.6 106.0,1101.9" stroke-width="2.1"/><path d="M108.5,1093.8 L97.0,1090.9" stroke-width="2.1"/><circle cx="97.0" cy="1084.6" r="1.35" fill="#000" stroke="none"/></g>
<polyline points="538.2,1108.5 555.4,1115.3 572.5,1108.5" fill="none" stroke="#000" stroke-width="1.5"/>
</svg>
</body></html>
